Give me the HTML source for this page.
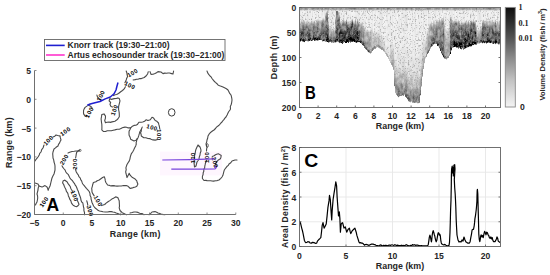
<!DOCTYPE html>
<html><head><meta charset="utf-8"><style>
html,body{margin:0;padding:0;background:#fff;width:550px;height:275px;overflow:hidden}
svg{display:block}
</style></head><body>
<svg width="550" height="275" viewBox="0 0 550 275">
<rect x="160" y="151.6" width="62" height="23.8" fill="#fef6fe"/>
<polyline points="87.3,105.9 85.1,107.4 84.2,108.9 83.6,110.3 83.5,112.2 83.6,113.9 85.1,116.1 87.0,116.6" fill="none" stroke="#4a4a4a" stroke-width="1.1" stroke-linejoin="round" stroke-linecap="round"/>
<text x="89.5" y="112.5" font-family="Liberation Sans, sans-serif" font-weight="bold" font-size="6.0" letter-spacing="0.45" fill="#000" text-anchor="middle" dominant-baseline="central" transform="rotate(-62 89.5 112.5)">100</text>
<polyline points="92.3,108.3 91.0,106.5 88.5,105.2" fill="none" stroke="#4a4a4a" stroke-width="1.1" stroke-linejoin="round" stroke-linecap="round"/>
<polyline points="96.9,95.1 97.5,97.0 99.5,98.9 100.7,99.5" fill="none" stroke="#4a4a4a" stroke-width="1.1" stroke-linejoin="round" stroke-linecap="round"/>
<text x="100.9" y="95.8" font-family="Liberation Sans, sans-serif" font-weight="bold" font-size="6.0" letter-spacing="0.45" fill="#000" text-anchor="middle" dominant-baseline="central" transform="rotate(-65 100.9 95.8)">100</text>
<polyline points="113.5,95.6 115.1,94.7 116.6,94.5 118.5,93.5 120.7,91.7 122.5,90.5 124.2,88.9 125.4,86.8" fill="none" stroke="#4a4a4a" stroke-width="1.1" stroke-linejoin="round" stroke-linecap="round"/>
<text x="129.9" y="85.4" font-family="Liberation Sans, sans-serif" font-weight="bold" font-size="6.0" letter-spacing="0.45" fill="#000" text-anchor="middle" dominant-baseline="central" transform="rotate(25 129.9 85.4)">100</text>
<polyline points="124.9,82.7 126.2,80.0 126.6,78.5 127.6,76.5 127.1,74.6 126.9,73.0 126.2,71.0" fill="none" stroke="#4a4a4a" stroke-width="1.1" stroke-linejoin="round" stroke-linecap="round"/>
<text x="132.6" y="73.0" font-family="Liberation Sans, sans-serif" font-weight="bold" font-size="6.0" letter-spacing="0.45" fill="#000" text-anchor="middle" dominant-baseline="central" transform="rotate(-30 132.6 73.0)">100</text>
<polyline points="133.1,80.0 135.2,79.6 136.6,79.3 138.4,79.1 139.9,78.6 141.4,78.6 144.2,77.5 146.3,75.8 147.7,73.7 148.3,71.7" fill="none" stroke="#4a4a4a" stroke-width="1.1" stroke-linejoin="round" stroke-linecap="round"/>
<polyline points="150.0,71.6 151.0,74.4 153.1,74.3 155.0,73.6 156.5,72.8 158.0,71.6 161.0,72.0 163.0,73.6 164.8,73.1 166.5,73.3 168.0,73.0 169.5,73.0 171.6,73.6 173.0,74.0 173.6,71.0" fill="none" stroke="#4a4a4a" stroke-width="1.1" stroke-linejoin="round" stroke-linecap="round"/>
<polyline points="110.6,102.3 109.1,100.8 109.8,98.6 111.3,99.4 114.2,98.6 116.2,98.5 117.8,97.9 119.3,98.6 120.0,100.8 119.3,103.7 118.6,106.6 118.6,109.6 119.1,112.0 119.3,113.9 119.3,116.8 117.8,119.0 116.3,120.3 114.9,121.2 112.0,121.9 110.3,122.4 109.0,122.0 106.9,122.3 105.5,122.7 104.7,120.5 105.4,118.3 105.5,116.1 104.0,113.9 101.8,114.6 101.5,116.7 101.1,119.0 101.3,120.6 101.5,122.5 101.8,124.1 101.9,126.3 101.9,128.3 101.8,129.9 103.3,131.4 105.5,131.5 107.3,130.7 109.1,130.7 111.3,130.8 113.2,130.2 114.9,129.9 117.2,129.3 119.3,129.2 121.0,128.6 122.2,127.8 125.0,127.1 126.5,127.2 128.3,127.9 130.7,127.9 132.4,126.2 134.0,125.4 135.9,125.3 137.3,124.6 138.9,122.2 141.3,122.2 142.7,122.0 144.6,121.3 146.2,119.7 147.9,120.5 150.3,119.7 152.0,117.3 153.6,118.1 155.2,120.5 156.9,121.3 158.5,123.0 158.8,124.4 159.3,126.2 159.8,129.0" fill="none" stroke="#4a4a4a" stroke-width="1.1" stroke-linejoin="round" stroke-linecap="round"/>
<text x="114.5" y="110.0" font-family="Liberation Sans, sans-serif" font-weight="bold" font-size="6.0" letter-spacing="0.45" fill="#000" text-anchor="middle" dominant-baseline="central" transform="rotate(-70 114.5 110.0)">100</text>
<polyline points="110.6,102.3 110.0,104.5 111.0,106.5 112.5,107.0" fill="none" stroke="#4a4a4a" stroke-width="1.1" stroke-linejoin="round" stroke-linecap="round"/>
<text x="152.0" y="127.6" font-family="Liberation Sans, sans-serif" font-weight="bold" font-size="6.0" letter-spacing="0.45" fill="#000" text-anchor="middle" dominant-baseline="central" transform="rotate(15 152.0 127.6)">100</text>
<text x="158.6" y="134.8" font-family="Liberation Sans, sans-serif" font-weight="bold" font-size="6.0" letter-spacing="0.45" fill="#000" text-anchor="middle" dominant-baseline="central" transform="rotate(90 158.6 134.8)">100</text>
<polyline points="157.7,139.5 155.2,140.1 153.0,139.9 151.1,139.3 149.8,138.6 147.9,138.5 145.9,137.8 143.8,137.7 141.3,136.0 141.1,134.3 140.5,132.8 141.2,131.5 141.3,129.5 142.2,127.1" fill="none" stroke="#4a4a4a" stroke-width="1.1" stroke-linejoin="round" stroke-linecap="round"/>
<polyline points="130.7,127.9 129.9,129.8 129.1,131.1 129.0,132.9 129.1,135.2 130.0,136.9 130.7,139.3 132.1,140.0 134.0,140.9 136.4,140.1 138.1,137.7 138.9,135.2 139.4,133.4 139.7,132.0 141.3,129.5" fill="none" stroke="#4a4a4a" stroke-width="1.1" stroke-linejoin="round" stroke-linecap="round"/>
<ellipse cx="171.7" cy="112.4" rx="3.3" ry="3.7" fill="none" stroke="#3c3c3c" stroke-width="1"/>
<polyline points="207.0,71.0 207.7,72.9 208.9,74.7 210.0,76.0 211.3,77.2 212.0,78.5 213.1,79.8 214.0,81.0 215.4,82.4 217.0,83.7 218.0,85.0 219.6,85.8 221.1,86.2 223.0,87.0 225.0,88.0 226.4,88.7 228.0,90.0 228.9,91.7 229.7,93.4 231.0,95.0 231.4,96.4 231.8,98.3 232.0,100.0 231.8,101.6 231.5,103.5 231.0,105.0 230.3,106.4 230.5,108.7 230.0,110.0 228.8,111.5 228.0,113.0 227.1,114.9 226.0,117.0 224.9,118.1 223.9,119.6 222.9,120.7 222.0,122.0 220.9,123.0 219.4,124.8 218.0,126.0 216.5,127.1 215.5,128.5 214.0,130.0 212.4,131.0 211.5,131.7 210.0,133.0 208.9,134.4 208.0,136.0 207.7,138.0 207.0,140.0 206.7,141.8 206.0,144.0 207.0,147.0 206.6,149.1 206.5,151.0" fill="none" stroke="#4a4a4a" stroke-width="1.1" stroke-linejoin="round" stroke-linecap="round"/>
<polyline points="206.5,160.0 206.3,161.5 205.5,162.8 205.2,164.4 204.8,166.2 204.6,168.1 203.8,169.3 203.8,171.2 203.2,172.7 203.1,174.5 202.4,176.4 202.4,178.5 204.0,180.5 205.8,180.4 207.1,180.6 208.7,180.7 210.7,180.7 212.0,181.0 213.4,181.1 215.8,180.8 217.2,180.6 219.0,180.0 220.8,178.3 222.0,177.0 222.8,175.6 223.3,173.8 223.7,172.1 224.2,170.3 225.0,169.0 226.1,167.6 227.2,166.2 228.3,165.4 229.0,164.0 230.8,162.8 232.0,161.0 235.0,160.0 237.0,160.0" fill="none" stroke="#4a4a4a" stroke-width="1.1" stroke-linejoin="round" stroke-linecap="round"/>
<text x="206.6" y="157.3" font-family="Liberation Sans, sans-serif" font-weight="bold" font-size="6.0" letter-spacing="0.45" fill="#000" text-anchor="middle" dominant-baseline="central" transform="rotate(-90 206.6 157.3)">100</text>
<ellipse cx="207.3" cy="145.5" rx="1" ry="1.8" fill="none" stroke="#3c3c3c" stroke-width="0.8"/>
<polyline points="198.0,145.0 200.0,147.0 200.8,149.1 201.0,151.0 200.2,153.2 200.0,155.0 199.3,156.9 199.0,159.0 198.1,160.5 197.0,162.0 196.4,164.3 196.0,166.0 194.5,167.0 194.3,164.9 194.0,163.0 194.0,161.3 194.3,159.2 194.5,157.0 194.7,154.8 195.2,153.2 195.5,151.0 196.0,149.2 197.0,147.0 198.0,145.0" fill="none" stroke="#4a4a4a" stroke-width="1.1" stroke-linejoin="round" stroke-linecap="round"/>
<text x="192.7" y="157.8" font-family="Liberation Sans, sans-serif" font-weight="bold" font-size="6.0" letter-spacing="0.45" fill="#000" text-anchor="middle" dominant-baseline="central" transform="rotate(-90 192.7 157.8)">100</text>
<polyline points="212.2,156.4 214.1,155.8 215.5,154.7 217.3,154.0 218.7,153.9 221.2,155.5 220.9,157.4 220.4,158.8 218.4,159.9 217.1,161.3 215.5,163.7 216.3,166.2 214.6,167.0" fill="none" stroke="#4a4a4a" stroke-width="1.1" stroke-linejoin="round" stroke-linecap="round"/>
<text x="214.8" y="162.5" font-family="Liberation Sans, sans-serif" font-weight="bold" font-size="6.0" letter-spacing="0.45" fill="#000" text-anchor="middle" dominant-baseline="central" transform="rotate(75 214.8 162.5)">200</text>
<polyline points="35.0,161.0 35.8,159.7 36.9,158.3 38.0,157.0 39.2,155.0 39.7,153.4 41.0,152.0 41.7,149.7 43.0,148.0 44.0,145.0" fill="none" stroke="#4a4a4a" stroke-width="1.1" stroke-linejoin="round" stroke-linecap="round"/>
<text x="48.5" y="140.5" font-family="Liberation Sans, sans-serif" font-weight="bold" font-size="6.0" letter-spacing="0.45" fill="#000" text-anchor="middle" dominant-baseline="central" transform="rotate(-45 48.5 140.5)">100</text>
<polyline points="53.0,137.0 54.8,136.2 56.0,135.0 57.7,135.5 60.0,136.0" fill="none" stroke="#4a4a4a" stroke-width="1.1" stroke-linejoin="round" stroke-linecap="round"/>
<text x="65.5" y="131.5" font-family="Liberation Sans, sans-serif" font-weight="bold" font-size="6.0" letter-spacing="0.45" fill="#000" text-anchor="middle" dominant-baseline="central" transform="rotate(-35 65.5 131.5)">100</text>
<polyline points="60.0,136.0 60.4,137.9 61.0,140.0 60.1,141.6 59.6,142.9 58.5,144.4 58.0,146.0 56.4,147.0 55.5,147.9 54.0,149.0 53.0,152.0 52.7,153.8 52.9,156.1 53.0,158.0 53.7,159.9 54.0,162.0 54.7,164.1 55.0,166.0 55.0,167.9 55.0,170.0 54.5,172.1 54.0,174.0 52.9,176.1 52.0,178.0 51.5,179.8 51.0,182.0 50.5,184.1 50.0,186.0 49.0,188.0 48.0,190.0" fill="none" stroke="#4a4a4a" stroke-width="1.1" stroke-linejoin="round" stroke-linecap="round"/>
<text x="44.0" y="202.0" font-family="Liberation Sans, sans-serif" font-weight="bold" font-size="6.0" letter-spacing="0.45" fill="#000" text-anchor="middle" dominant-baseline="central" transform="rotate(-55 44.0 202.0)">100</text>
<polyline points="35.0,183.0 38.0,184.0 39.0,186.0 38.2,187.9 38.0,190.0 37.4,192.3 37.0,194.0 37.5,195.6 37.7,197.5 37.6,199.0 37.0,202.0 36.1,203.5 35.5,205.0" fill="none" stroke="#4a4a4a" stroke-width="1.1" stroke-linejoin="round" stroke-linecap="round"/>
<polyline points="39.0,186.0 42.0,187.0 43.2,186.5 45.0,185.6 47.0,187.0 47.8,188.8 48.4,190.0" fill="none" stroke="#4a4a4a" stroke-width="1.1" stroke-linejoin="round" stroke-linecap="round"/>
<polyline points="79.2,150.5 77.8,150.9 76.0,151.0 74.2,151.3 72.0,151.5 69.7,152.3 68.0,153.0" fill="none" stroke="#4a4a4a" stroke-width="1.1" stroke-linejoin="round" stroke-linecap="round"/>
<text x="64.3" y="159.7" font-family="Liberation Sans, sans-serif" font-weight="bold" font-size="6.0" letter-spacing="0.45" fill="#000" text-anchor="middle" dominant-baseline="central" transform="rotate(-60 64.3 159.7)">200</text>
<polyline points="62.0,165.7 62.5,166.9 63.7,168.5 65.0,169.9 65.9,172.0 66.7,173.2 68.4,174.7 69.2,176.4 70.0,178.1 71.1,179.5 72.5,180.7 73.5,182.4 74.6,183.7 75.2,185.1 76.1,186.2 76.9,188.0 77.4,189.5 78.4,191.4 79.0,193.8 80.0,196.3 80.7,198.2 80.9,200.0 81.7,202.0 82.8,202.9 83.2,205.0 83.4,206.3 83.9,208.4 83.9,210.6 84.5,212.5 84.5,214.7" fill="none" stroke="#4a4a4a" stroke-width="1.1" stroke-linejoin="round" stroke-linecap="round"/>
<polyline points="79.2,150.5 76.8,152.0 76.3,153.9 76.0,156.0 75.6,158.0" fill="none" stroke="#4a4a4a" stroke-width="1.1" stroke-linejoin="round" stroke-linecap="round"/>
<text x="74.8" y="164.0" font-family="Liberation Sans, sans-serif" font-weight="bold" font-size="6.0" letter-spacing="0.45" fill="#000" text-anchor="middle" dominant-baseline="central" transform="rotate(-90 74.8 164.0)">200</text>
<polyline points="75.5,169.5 76.3,172.0 77.3,173.6 78.5,175.3 78.9,176.7 80.3,178.1 80.7,179.6 81.6,180.8 82.2,182.7 82.8,184.0 84.0,185.4 85.0,186.7 86.4,188.4 87.8,189.8 89.2,191.5 90.0,193.6 90.1,195.6 91.0,197.3 91.1,199.1 91.6,200.9 91.9,202.2 92.7,204.0 93.6,206.0 94.9,207.8 96.1,208.7 97.6,210.0 99.4,211.0 100.9,211.3 103.0,211.8 105.3,212.0 107.4,212.0 109.6,211.6 111.3,211.6 112.9,212.0 114.4,212.2 116.2,213.0 118.4,213.8 120.5,214.7" fill="none" stroke="#4a4a4a" stroke-width="1.1" stroke-linejoin="round" stroke-linecap="round"/>
<text x="98.0" y="201.0" font-family="Liberation Sans, sans-serif" font-weight="bold" font-size="6.0" letter-spacing="0.45" fill="#000" text-anchor="middle" dominant-baseline="central" transform="rotate(60 98.0 201.0)">100</text>
<polyline points="101.5,205.6 103.1,205.0 104.7,204.5 106.1,203.1 108.0,201.8 109.8,200.6 111.8,199.1 113.5,198.3 115.6,196.9 117.8,197.5 118.5,199.2 119.2,200.7 119.3,202.8 119.4,204.5 119.5,206.2 119.2,207.8 120.0,210.5 122.2,212.7 125.0,214.1 126.5,214.7" fill="none" stroke="#4a4a4a" stroke-width="1.1" stroke-linejoin="round" stroke-linecap="round"/>
<circle cx="80" cy="150.4" r="1.1" fill="none" stroke="#3c3c3c" stroke-width="0.7"/>
<polyline points="64.8,180.2 67.0,181.8 68.1,183.6 69.2,185.1 70.2,186.5 70.8,188.4 71.4,189.5 73.0,192.0" fill="none" stroke="#4a4a4a" stroke-width="1.1" stroke-linejoin="round" stroke-linecap="round"/>
<text x="74.5" y="196.0" font-family="Liberation Sans, sans-serif" font-weight="bold" font-size="6.0" letter-spacing="0.45" fill="#000" text-anchor="middle" dominant-baseline="central" transform="rotate(68 74.5 196.0)">100</text>
<polyline points="77.0,200.0 77.7,201.3 78.5,203.0 79.0,204.5 78.2,205.5 76.8,206.7 75.0,206.3 73.6,205.6 72.6,204.6 71.4,202.9 70.9,200.9 69.7,199.1 69.2,197.5 68.4,195.9 68.0,194.0 67.6,192.8 66.4,191.3 65.9,189.5 65.0,187.8 64.3,186.2 63.6,184.3 62.6,183.0 63.2,180.7 64.8,180.2" fill="none" stroke="#4a4a4a" stroke-width="1.1" stroke-linejoin="round" stroke-linecap="round"/>
<polyline points="86.7,200.7 87.4,203.0 87.8,205.1" fill="none" stroke="#4a4a4a" stroke-width="1.1" stroke-linejoin="round" stroke-linecap="round"/>
<text x="90.0" y="211.0" font-family="Liberation Sans, sans-serif" font-weight="bold" font-size="6.0" letter-spacing="0.45" fill="#000" text-anchor="middle" dominant-baseline="central" transform="rotate(75 90.0 211.0)">300</text>
<polyline points="94.2,195.9 92.6,193.4 92.0,192.0 91.9,190.0 91.7,188.4 92.2,186.8 92.6,185.0 93.4,182.5 95.9,181.7 97.2,180.7 99.2,180.0 100.9,178.7 102.6,177.5 104.3,176.7 105.1,179.2 105.3,180.9 105.9,182.5 107.6,185.0 109.6,185.4 111.0,185.9 113.1,185.6 115.1,185.9 117.1,186.1 119.4,186.0 121.3,186.0 123.7,185.5 126.2,185.6 128.1,186.3 130.3,188.5 132.3,187.9 133.6,187.4 135.4,187.0 136.8,186.3 137.9,184.1 137.2,182.6 136.8,180.9 134.7,178.7 132.5,177.6 130.3,175.4 129.2,173.2 128.1,175.4 127.0,177.6 126.6,175.6 125.9,173.2 125.7,171.6 126.2,169.7 125.9,167.8 126.5,165.9 127.0,164.5 128.1,162.7 129.2,161.2 129.9,159.1 130.3,156.8 130.9,155.0 131.4,153.6 132.6,152.0 133.6,150.3 134.1,149.1 135.1,147.1 135.7,145.9 136.3,144.0 136.1,142.8 136.6,141.1 136.8,139.4 137.4,138.4" fill="none" stroke="#4a4a4a" stroke-width="1.1" stroke-linejoin="round" stroke-linecap="round"/>
<polyline points="130.0,213.0 132.1,212.5 134.0,212.0 135.9,212.0 138.0,212.4 139.7,213.2 142.0,213.6 144.0,214.7" fill="none" stroke="#4a4a4a" stroke-width="1.1" stroke-linejoin="round" stroke-linecap="round"/>
<polyline points="149.0,214.7 150.7,213.4 152.0,212.0 155.0,211.6 156.7,212.2 158.0,213.0 159.8,213.6 162.0,214.4 165.0,214.7" fill="none" stroke="#4a4a4a" stroke-width="1.1" stroke-linejoin="round" stroke-linecap="round"/>
<polyline points="162.3,160 190,159.6 214.6,158.8" fill="none" stroke="#7843dc" stroke-width="1.2"/>
<polyline points="171.3,169.2 200,169.2 215,169 216.3,167.5 214.5,166.2" fill="none" stroke="#7843dc" stroke-width="1.2"/>
<polyline points="87.3,105.3 90.2,104 95,102.7 100,101.5 105.2,98.9 110.3,97 114,93.8 116,90 117,86 118,82.5" fill="none" stroke="#1f1fd0" stroke-width="1.5" stroke-linejoin="round"/>
<line x1="34.5" y1="70.5" x2="34.5" y2="214.5" stroke="#707070" stroke-width="1"/>
<line x1="34.5" y1="214.5" x2="235.8" y2="214.5" stroke="#707070" stroke-width="1"/>
<line x1="34.50" y1="214.5" x2="34.50" y2="212.5" stroke="#6e6e6e" stroke-width="0.8"/>
<text x="34.50" y="226.20" font-family="Liberation Sans, sans-serif" font-weight="bold" font-size="8.6" text-anchor="middle" fill="#262626" >&#8722;5</text>
<line x1="63.26" y1="214.5" x2="63.26" y2="212.5" stroke="#6e6e6e" stroke-width="0.8"/>
<text x="63.26" y="226.20" font-family="Liberation Sans, sans-serif" font-weight="bold" font-size="8.6" text-anchor="middle" fill="#262626" >0</text>
<line x1="92.01" y1="214.5" x2="92.01" y2="212.5" stroke="#6e6e6e" stroke-width="0.8"/>
<text x="92.01" y="226.20" font-family="Liberation Sans, sans-serif" font-weight="bold" font-size="8.6" text-anchor="middle" fill="#262626" >5</text>
<line x1="120.77" y1="214.5" x2="120.77" y2="212.5" stroke="#6e6e6e" stroke-width="0.8"/>
<text x="120.77" y="226.20" font-family="Liberation Sans, sans-serif" font-weight="bold" font-size="8.6" text-anchor="middle" fill="#262626" >10</text>
<line x1="149.53" y1="214.5" x2="149.53" y2="212.5" stroke="#6e6e6e" stroke-width="0.8"/>
<text x="149.53" y="226.20" font-family="Liberation Sans, sans-serif" font-weight="bold" font-size="8.6" text-anchor="middle" fill="#262626" >15</text>
<line x1="178.29" y1="214.5" x2="178.29" y2="212.5" stroke="#6e6e6e" stroke-width="0.8"/>
<text x="178.29" y="226.20" font-family="Liberation Sans, sans-serif" font-weight="bold" font-size="8.6" text-anchor="middle" fill="#262626" >20</text>
<line x1="207.04" y1="214.5" x2="207.04" y2="212.5" stroke="#6e6e6e" stroke-width="0.8"/>
<text x="207.04" y="226.20" font-family="Liberation Sans, sans-serif" font-weight="bold" font-size="8.6" text-anchor="middle" fill="#262626" >25</text>
<line x1="235.80" y1="214.5" x2="235.80" y2="212.5" stroke="#6e6e6e" stroke-width="0.8"/>
<text x="235.80" y="226.20" font-family="Liberation Sans, sans-serif" font-weight="bold" font-size="8.6" text-anchor="middle" fill="#262626" >30</text>
<line x1="34.5" y1="214.50" x2="36.5" y2="214.50" stroke="#6e6e6e" stroke-width="0.8"/>
<text x="31.00" y="218.00" font-family="Liberation Sans, sans-serif" font-weight="bold" font-size="8.6" text-anchor="end" fill="#262626" >&#8722;20</text>
<line x1="34.5" y1="185.70" x2="36.5" y2="185.70" stroke="#6e6e6e" stroke-width="0.8"/>
<text x="31.00" y="189.20" font-family="Liberation Sans, sans-serif" font-weight="bold" font-size="8.6" text-anchor="end" fill="#262626" >&#8722;15</text>
<line x1="34.5" y1="156.90" x2="36.5" y2="156.90" stroke="#6e6e6e" stroke-width="0.8"/>
<text x="31.00" y="160.40" font-family="Liberation Sans, sans-serif" font-weight="bold" font-size="8.6" text-anchor="end" fill="#262626" >&#8722;10</text>
<line x1="34.5" y1="128.10" x2="36.5" y2="128.10" stroke="#6e6e6e" stroke-width="0.8"/>
<text x="31.00" y="131.60" font-family="Liberation Sans, sans-serif" font-weight="bold" font-size="8.6" text-anchor="end" fill="#262626" >&#8722;5</text>
<line x1="34.5" y1="99.30" x2="36.5" y2="99.30" stroke="#6e6e6e" stroke-width="0.8"/>
<text x="31.00" y="102.80" font-family="Liberation Sans, sans-serif" font-weight="bold" font-size="8.6" text-anchor="end" fill="#262626" >0</text>
<line x1="34.5" y1="70.50" x2="36.5" y2="70.50" stroke="#6e6e6e" stroke-width="0.8"/>
<text x="31.00" y="74.00" font-family="Liberation Sans, sans-serif" font-weight="bold" font-size="8.6" text-anchor="end" fill="#262626" >5</text>
<text x="135.20" y="237.20" font-family="Liberation Sans, sans-serif" font-weight="bold" font-size="8.9" text-anchor="middle" fill="#262626" letter-spacing="0.25">Range (km)</text>
<text x="0.00" y="0.00" font-family="Liberation Sans, sans-serif" font-weight="bold" font-size="8.9" text-anchor="middle" fill="#262626" letter-spacing="0.25" transform="translate(12 142.5) rotate(-90)">Range (km)</text>
<text x="52.80" y="210.50" font-family="Liberation Sans, sans-serif" font-weight="bold" font-size="17.5" text-anchor="middle" fill="#000" >A</text>
<rect x="44.5" y="39.5" width="180.5" height="21" fill="#fff" stroke="#666" stroke-width="0.9"/>
<line x1="46" y1="45.4" x2="64.7" y2="45.4" stroke="#1f1fd0" stroke-width="1.6"/>
<line x1="46" y1="55" x2="64.7" y2="55" stroke="#ff33cc" stroke-width="1.6"/>
<text x="67.50" y="48.30" font-family="Liberation Sans, sans-serif" font-weight="bold" font-size="8.5" text-anchor="start" fill="#262626" >Knorr track (19:30&#8211;21:00)</text>
<text x="67.50" y="58.00" font-family="Liberation Sans, sans-serif" font-weight="bold" font-size="8.5" text-anchor="start" fill="#262626" >Artus echosounder track (19:30&#8211;21:00)</text>
<defs>
<filter id="nz" x="0" y="0" width="100%" height="100%"><feTurbulence type="fractalNoise" baseFrequency="1.1 0.3" numOctaves="1" seed="4" result="t"/><feColorMatrix in="t" type="matrix" values="0 0 0 0 0  0 0 0 0 0  0 0 0 0 0  0 0 0 -1.6 1.05" result="a"/><feComposite in="SourceGraphic" in2="a" operator="in"/></filter>
<clipPath id="fl"><polygon points="299.5,7.8 299.0,41.5 304.5,41.5 309.9,40.9 315.4,40.4 320.8,40.4 324.1,41.5 327.4,42.0 330.6,42.5 332.8,43.1 335.0,42.5 338.3,42.0 340.4,43.1 342.6,43.6 344.8,42.5 348.1,42.5 353.5,42.0 355.0,42.6 357.2,42.4 359.4,42.4 361.5,43.8 363.7,46.7 365.9,49.6 368.1,51.8 370.3,53.3 371.7,52.5 373.2,50.4 375.4,48.2 377.5,47.5 379.7,48.2 381.9,49.6 384.1,51.8 386.3,55.5 388.5,59.1 390.6,63.5 392.8,67.1 394.0,72.0 394.4,85.8 395.6,93.4 398.2,97.3 402.0,96.0 404.5,94.7 405.8,97.3 408.3,101.0 412.2,102.3 417.3,103.1 419.8,102.3 421.0,91.0 422.3,78.2 423.6,68.0 425.0,60.0 428.0,53.0 431.0,48.0 433.0,45.0 436.0,44.0 439.0,47.0 441.0,53.0 444.0,58.0 447.0,59.0 449.0,57.0 451.0,53.0 452.0,48.0 454.0,47.0 458.0,48.0 461.0,49.0 465.0,49.0 469.0,47.0 473.0,45.0 477.0,44.0 481.0,43.0 487.0,43.0 493.0,43.4 500.5,44.0 500.5,7.8"/></clipPath>
<linearGradient id="cb" x1="0" y1="0" x2="0" y2="1"><stop offset="0" stop-color="#0e0e0e"/><stop offset="0.15" stop-color="#2e2e2e"/><stop offset="0.31" stop-color="#545454"/><stop offset="0.5" stop-color="#888888"/><stop offset="0.73" stop-color="#c2c2c2"/><stop offset="1" stop-color="#f4f4f4"/></linearGradient>
<filter id="nz2" x="299" y="7" width="203" height="101" filterUnits="userSpaceOnUse" color-interpolation-filters="sRGB"><feTurbulence type="fractalNoise" baseFrequency="0.37 0.19" numOctaves="3" seed="11" result="t"/><feColorMatrix in="t" type="matrix" values="0 0 0 1 0  0 0 0 1 0  0 0 0 1 0  0 0 0 0 1" result="g"/><feComposite in="SourceGraphic" in2="g" operator="arithmetic" k1="-1.3" k2="1.65" k3="1.3" k4="-0.65" result="c"/><feTurbulence type="fractalNoise" baseFrequency="0.71 0.53" numOctaves="2" seed="29" result="t2"/><feComponentTransfer in="t2" result="m"><feFuncA type="discrete" tableValues="0 0 0 0 0 0 0.35 0.65 0.85 1"/></feComponentTransfer><feFlood flood-color="#9a9a9a" result="fl"/><feComposite in="fl" in2="m" operator="in" result="dots"/><feMerge result="c2"><feMergeNode in="c"/><feMergeNode in="dots"/></feMerge><feComposite in="c2" in2="SourceGraphic" operator="in"/></filter>
</defs>
<defs><linearGradient id="e0" x1="0" y1="0" x2="0" y2="1"><stop offset="0.000" stop-color="#8c8c8c"/><stop offset="0.048" stop-color="#aaaaaa"/><stop offset="0.090" stop-color="#eeeeee"/><stop offset="0.341" stop-color="#eeeeee"/><stop offset="0.460" stop-color="#9c9c9c"/><stop offset="0.723" stop-color="#6d6d6d"/><stop offset="0.916" stop-color="#5d5d5d"/><stop offset="0.928" stop-color="#292929"/><stop offset="1.000" stop-color="#292929"/></linearGradient><linearGradient id="e1" x1="0" y1="0" x2="0" y2="1"><stop offset="0.000" stop-color="#8c8c8c"/><stop offset="0.047" stop-color="#aaaaaa"/><stop offset="0.089" stop-color="#e8e8e8"/><stop offset="0.377" stop-color="#e8e8e8"/><stop offset="0.496" stop-color="#9a9a9a"/><stop offset="0.740" stop-color="#6a6a6a"/><stop offset="0.917" stop-color="#595959"/><stop offset="0.929" stop-color="#252525"/><stop offset="1.000" stop-color="#252525"/></linearGradient><linearGradient id="e2" x1="0" y1="0" x2="0" y2="1"><stop offset="0.000" stop-color="#8c8c8c"/><stop offset="0.048" stop-color="#aaaaaa"/><stop offset="0.091" stop-color="#e8e8e8"/><stop offset="0.346" stop-color="#e8e8e8"/><stop offset="0.467" stop-color="#999999"/><stop offset="0.726" stop-color="#696969"/><stop offset="0.916" stop-color="#585858"/><stop offset="0.928" stop-color="#232323"/><stop offset="1.000" stop-color="#232323"/></linearGradient><linearGradient id="e3" x1="0" y1="0" x2="0" y2="1"><stop offset="0.000" stop-color="#8c8c8c"/><stop offset="0.048" stop-color="#aaaaaa"/><stop offset="0.089" stop-color="#e8e8e8"/><stop offset="0.353" stop-color="#e8e8e8"/><stop offset="0.472" stop-color="#959595"/><stop offset="0.729" stop-color="#626262"/><stop offset="0.917" stop-color="#505050"/><stop offset="0.929" stop-color="#1b1b1b"/><stop offset="1.000" stop-color="#1b1b1b"/></linearGradient><linearGradient id="e4" x1="0" y1="0" x2="0" y2="1"><stop offset="0.000" stop-color="#8c8c8c"/><stop offset="0.047" stop-color="#aaaaaa"/><stop offset="0.089" stop-color="#ededed"/><stop offset="0.366" stop-color="#ededed"/><stop offset="0.484" stop-color="#949494"/><stop offset="0.735" stop-color="#616161"/><stop offset="0.917" stop-color="#4e4e4e"/><stop offset="0.929" stop-color="#191919"/><stop offset="1.000" stop-color="#191919"/></linearGradient><linearGradient id="e5" x1="0" y1="0" x2="0" y2="1"><stop offset="0.000" stop-color="#8c8c8c"/><stop offset="0.047" stop-color="#aaaaaa"/><stop offset="0.088" stop-color="#f0f0f0"/><stop offset="0.352" stop-color="#f0f0f0"/><stop offset="0.469" stop-color="#9e9e9e"/><stop offset="0.727" stop-color="#717171"/><stop offset="0.918" stop-color="#606060"/><stop offset="0.930" stop-color="#2d2d2d"/><stop offset="1.000" stop-color="#2d2d2d"/></linearGradient><linearGradient id="e6" x1="0" y1="0" x2="0" y2="1"><stop offset="0.000" stop-color="#8c8c8c"/><stop offset="0.048" stop-color="#aaaaaa"/><stop offset="0.090" stop-color="#eaeaea"/><stop offset="0.412" stop-color="#eaeaea"/><stop offset="0.532" stop-color="#9e9e9e"/><stop offset="0.759" stop-color="#707070"/><stop offset="0.916" stop-color="#5f5f5f"/><stop offset="0.928" stop-color="#2c2c2c"/><stop offset="1.000" stop-color="#2c2c2c"/></linearGradient><linearGradient id="e7" x1="0" y1="0" x2="0" y2="1"><stop offset="0.000" stop-color="#8c8c8c"/><stop offset="0.048" stop-color="#aaaaaa"/><stop offset="0.091" stop-color="#ededed"/><stop offset="0.372" stop-color="#ededed"/><stop offset="0.493" stop-color="#999999"/><stop offset="0.739" stop-color="#686868"/><stop offset="0.915" stop-color="#575757"/><stop offset="0.927" stop-color="#222222"/><stop offset="1.000" stop-color="#222222"/></linearGradient><linearGradient id="e8" x1="0" y1="0" x2="0" y2="1"><stop offset="0.000" stop-color="#8c8c8c"/><stop offset="0.048" stop-color="#aaaaaa"/><stop offset="0.090" stop-color="#e8e8e8"/><stop offset="0.354" stop-color="#e8e8e8"/><stop offset="0.473" stop-color="#9f9f9f"/><stop offset="0.729" stop-color="#717171"/><stop offset="0.916" stop-color="#616161"/><stop offset="0.928" stop-color="#2e2e2e"/><stop offset="1.000" stop-color="#2e2e2e"/></linearGradient><linearGradient id="e9" x1="0" y1="0" x2="0" y2="1"><stop offset="0.000" stop-color="#8c8c8c"/><stop offset="0.048" stop-color="#aaaaaa"/><stop offset="0.090" stop-color="#eaeaea"/><stop offset="0.387" stop-color="#eaeaea"/><stop offset="0.507" stop-color="#9b9b9b"/><stop offset="0.746" stop-color="#6b6b6b"/><stop offset="0.916" stop-color="#5a5a5a"/><stop offset="0.928" stop-color="#262626"/><stop offset="1.000" stop-color="#262626"/></linearGradient><linearGradient id="e10" x1="0" y1="0" x2="0" y2="1"><stop offset="0.000" stop-color="#8c8c8c"/><stop offset="0.048" stop-color="#aaaaaa"/><stop offset="0.091" stop-color="#efefef"/><stop offset="0.402" stop-color="#efefef"/><stop offset="0.523" stop-color="#9d9d9d"/><stop offset="0.754" stop-color="#6e6e6e"/><stop offset="0.915" stop-color="#5d5d5d"/><stop offset="0.927" stop-color="#292929"/><stop offset="1.000" stop-color="#292929"/></linearGradient><linearGradient id="e11" x1="0" y1="0" x2="0" y2="1"><stop offset="0.000" stop-color="#8c8c8c"/><stop offset="0.049" stop-color="#aaaaaa"/><stop offset="0.092" stop-color="#ececec"/><stop offset="0.422" stop-color="#ececec"/><stop offset="0.544" stop-color="#9a9a9a"/><stop offset="0.765" stop-color="#696969"/><stop offset="0.914" stop-color="#585858"/><stop offset="0.927" stop-color="#242424"/><stop offset="1.000" stop-color="#242424"/></linearGradient><linearGradient id="e12" x1="0" y1="0" x2="0" y2="1"><stop offset="0.000" stop-color="#8c8c8c"/><stop offset="0.048" stop-color="#aaaaaa"/><stop offset="0.090" stop-color="#f1f1f1"/><stop offset="0.348" stop-color="#f1f1f1"/><stop offset="0.468" stop-color="#9d9d9d"/><stop offset="0.727" stop-color="#6f6f6f"/><stop offset="0.916" stop-color="#5e5e5e"/><stop offset="0.928" stop-color="#2b2b2b"/><stop offset="1.000" stop-color="#2b2b2b"/></linearGradient><linearGradient id="e13" x1="0" y1="0" x2="0" y2="1"><stop offset="0.000" stop-color="#8c8c8c"/><stop offset="0.049" stop-color="#aaaaaa"/><stop offset="0.092" stop-color="#e9e9e9"/><stop offset="0.383" stop-color="#e9e9e9"/><stop offset="0.505" stop-color="#999999"/><stop offset="0.745" stop-color="#686868"/><stop offset="0.915" stop-color="#565656"/><stop offset="0.927" stop-color="#222222"/><stop offset="1.000" stop-color="#222222"/></linearGradient><linearGradient id="e14" x1="0" y1="0" x2="0" y2="1"><stop offset="0.000" stop-color="#8c8c8c"/><stop offset="0.050" stop-color="#aaaaaa"/><stop offset="0.093" stop-color="#efefef"/><stop offset="0.389" stop-color="#efefef"/><stop offset="0.513" stop-color="#9b9b9b"/><stop offset="0.749" stop-color="#6c6c6c"/><stop offset="0.913" stop-color="#5b5b5b"/><stop offset="0.926" stop-color="#272727"/><stop offset="1.000" stop-color="#272727"/></linearGradient><linearGradient id="e15" x1="0" y1="0" x2="0" y2="1"><stop offset="0.000" stop-color="#8c8c8c"/><stop offset="0.048" stop-color="#aaaaaa"/><stop offset="0.091" stop-color="#eeeeee"/><stop offset="0.373" stop-color="#eeeeee"/><stop offset="0.494" stop-color="#a0a0a0"/><stop offset="0.739" stop-color="#747474"/><stop offset="0.915" stop-color="#646464"/><stop offset="0.928" stop-color="#313131"/><stop offset="1.000" stop-color="#313131"/></linearGradient><linearGradient id="e16" x1="0" y1="0" x2="0" y2="1"><stop offset="0.000" stop-color="#8c8c8c"/><stop offset="0.049" stop-color="#aaaaaa"/><stop offset="0.092" stop-color="#efefef"/><stop offset="0.402" stop-color="#efefef"/><stop offset="0.525" stop-color="#a0a0a0"/><stop offset="0.755" stop-color="#737373"/><stop offset="0.914" stop-color="#636363"/><stop offset="0.927" stop-color="#303030"/><stop offset="1.000" stop-color="#303030"/></linearGradient><linearGradient id="e17" x1="0" y1="0" x2="0" y2="1"><stop offset="0.000" stop-color="#8c8c8c"/><stop offset="0.049" stop-color="#aaaaaa"/><stop offset="0.092" stop-color="#e8e8e8"/><stop offset="0.374" stop-color="#e8e8e8"/><stop offset="0.497" stop-color="#9f9f9f"/><stop offset="0.741" stop-color="#727272"/><stop offset="0.914" stop-color="#626262"/><stop offset="0.926" stop-color="#2f2f2f"/><stop offset="1.000" stop-color="#2f2f2f"/></linearGradient><linearGradient id="e18" x1="0" y1="0" x2="0" y2="1"><stop offset="0.000" stop-color="#8c8c8c"/><stop offset="0.049" stop-color="#aaaaaa"/><stop offset="0.092" stop-color="#efefef"/><stop offset="0.326" stop-color="#efefef"/><stop offset="0.448" stop-color="#9d9d9d"/><stop offset="0.716" stop-color="#6f6f6f"/><stop offset="0.915" stop-color="#5e5e5e"/><stop offset="0.927" stop-color="#2b2b2b"/><stop offset="1.000" stop-color="#2b2b2b"/></linearGradient><linearGradient id="e19" x1="0" y1="0" x2="0" y2="1"><stop offset="0.000" stop-color="#8c8c8c"/><stop offset="0.049" stop-color="#aaaaaa"/><stop offset="0.092" stop-color="#e7e7e7"/><stop offset="0.338" stop-color="#e7e7e7"/><stop offset="0.461" stop-color="#a1a1a1"/><stop offset="0.723" stop-color="#757575"/><stop offset="0.914" stop-color="#656565"/><stop offset="0.926" stop-color="#323232"/><stop offset="1.000" stop-color="#323232"/></linearGradient><linearGradient id="e20" x1="0" y1="0" x2="0" y2="1"><stop offset="0.000" stop-color="#8c8c8c"/><stop offset="0.050" stop-color="#aaaaaa"/><stop offset="0.093" stop-color="#e8e8e8"/><stop offset="0.361" stop-color="#e8e8e8"/><stop offset="0.485" stop-color="#a7a7a7"/><stop offset="0.735" stop-color="#7d7d7d"/><stop offset="0.913" stop-color="#6e6e6e"/><stop offset="0.925" stop-color="#3c3c3c"/><stop offset="1.000" stop-color="#3c3c3c"/></linearGradient><linearGradient id="e21" x1="0" y1="0" x2="0" y2="1"><stop offset="0.000" stop-color="#8c8c8c"/><stop offset="0.050" stop-color="#aaaaaa"/><stop offset="0.093" stop-color="#ebebeb"/><stop offset="0.364" stop-color="#ebebeb"/><stop offset="0.489" stop-color="#a5a5a5"/><stop offset="0.737" stop-color="#7a7a7a"/><stop offset="0.913" stop-color="#6b6b6b"/><stop offset="0.925" stop-color="#393939"/><stop offset="1.000" stop-color="#393939"/></linearGradient><linearGradient id="e22" x1="0" y1="0" x2="0" y2="1"><stop offset="0.000" stop-color="#8c8c8c"/><stop offset="0.049" stop-color="#aaaaaa"/><stop offset="0.093" stop-color="#ececec"/><stop offset="0.357" stop-color="#ececec"/><stop offset="0.481" stop-color="#a2a2a2"/><stop offset="0.733" stop-color="#767676"/><stop offset="0.913" stop-color="#666666"/><stop offset="0.926" stop-color="#343434"/><stop offset="1.000" stop-color="#343434"/></linearGradient><linearGradient id="e23" x1="0" y1="0" x2="0" y2="1"><stop offset="0.000" stop-color="#8c8c8c"/><stop offset="0.048" stop-color="#aaaaaa"/><stop offset="0.089" stop-color="#eaeaea"/><stop offset="0.296" stop-color="#eaeaea"/><stop offset="0.416" stop-color="#9d9d9d"/><stop offset="0.700" stop-color="#6f6f6f"/><stop offset="0.917" stop-color="#5e5e5e"/><stop offset="0.928" stop-color="#2b2b2b"/><stop offset="1.000" stop-color="#2b2b2b"/></linearGradient><linearGradient id="e24" x1="0" y1="0" x2="0" y2="1"><stop offset="0.000" stop-color="#8c8c8c"/><stop offset="0.048" stop-color="#aaaaaa"/><stop offset="0.090" stop-color="#f1f1f1"/><stop offset="0.269" stop-color="#f1f1f1"/><stop offset="0.389" stop-color="#9d9d9d"/><stop offset="0.687" stop-color="#6e6e6e"/><stop offset="0.916" stop-color="#5d5d5d"/><stop offset="0.928" stop-color="#292929"/><stop offset="1.000" stop-color="#292929"/></linearGradient><linearGradient id="e25" x1="0" y1="0" x2="0" y2="1"><stop offset="0.000" stop-color="#8c8c8c"/><stop offset="0.048" stop-color="#aaaaaa"/><stop offset="0.090" stop-color="#e9e9e9"/><stop offset="0.292" stop-color="#e9e9e9"/><stop offset="0.412" stop-color="#a0a0a0"/><stop offset="0.699" stop-color="#737373"/><stop offset="0.916" stop-color="#626262"/><stop offset="0.928" stop-color="#2f2f2f"/><stop offset="1.000" stop-color="#2f2f2f"/></linearGradient><linearGradient id="e26" x1="0" y1="0" x2="0" y2="1"><stop offset="0.000" stop-color="#8c8c8c"/><stop offset="0.047" stop-color="#aaaaaa"/><stop offset="0.088" stop-color="#e7e7e7"/><stop offset="0.146" stop-color="#e7e7e7"/><stop offset="0.263" stop-color="#989898"/><stop offset="0.624" stop-color="#676767"/><stop offset="0.918" stop-color="#565656"/><stop offset="0.929" stop-color="#212121"/><stop offset="1.000" stop-color="#212121"/></linearGradient><linearGradient id="e27" x1="0" y1="0" x2="0" y2="1"><stop offset="0.000" stop-color="#8c8c8c"/><stop offset="0.047" stop-color="#aaaaaa"/><stop offset="0.088" stop-color="#f1f1f1"/><stop offset="0.094" stop-color="#f1f1f1"/><stop offset="0.155" stop-color="#949494"/><stop offset="0.570" stop-color="#626262"/><stop offset="0.917" stop-color="#4f4f4f"/><stop offset="0.929" stop-color="#1a1a1a"/><stop offset="1.000" stop-color="#1a1a1a"/></linearGradient><linearGradient id="e28" x1="0" y1="0" x2="0" y2="1"><stop offset="0.000" stop-color="#8c8c8c"/><stop offset="0.047" stop-color="#aaaaaa"/><stop offset="0.088" stop-color="#eeeeee"/><stop offset="0.093" stop-color="#eeeeee"/><stop offset="0.098" stop-color="#949494"/><stop offset="0.542" stop-color="#616161"/><stop offset="0.918" stop-color="#4e4e4e"/><stop offset="0.930" stop-color="#191919"/><stop offset="1.000" stop-color="#191919"/></linearGradient><linearGradient id="e29" x1="0" y1="0" x2="0" y2="1"><stop offset="0.000" stop-color="#8c8c8c"/><stop offset="0.046" stop-color="#aaaaaa"/><stop offset="0.086" stop-color="#f0f0f0"/><stop offset="0.304" stop-color="#f0f0f0"/><stop offset="0.419" stop-color="#a2a2a2"/><stop offset="0.702" stop-color="#767676"/><stop offset="0.920" stop-color="#666666"/><stop offset="0.931" stop-color="#333333"/><stop offset="1.000" stop-color="#333333"/></linearGradient><linearGradient id="e30" x1="0" y1="0" x2="0" y2="1"><stop offset="0.000" stop-color="#8c8c8c"/><stop offset="0.047" stop-color="#aaaaaa"/><stop offset="0.087" stop-color="#e8e8e8"/><stop offset="0.555" stop-color="#e8e8e8"/><stop offset="0.672" stop-color="#b5b5b5"/><stop offset="0.829" stop-color="#929292"/><stop offset="0.919" stop-color="#868686"/><stop offset="0.930" stop-color="#575757"/><stop offset="1.000" stop-color="#575757"/></linearGradient><linearGradient id="e31" x1="0" y1="0" x2="0" y2="1"><stop offset="0.000" stop-color="#8c8c8c"/><stop offset="0.047" stop-color="#aaaaaa"/><stop offset="0.088" stop-color="#e9e9e9"/><stop offset="0.518" stop-color="#e9e9e9"/><stop offset="0.635" stop-color="#b8b8b8"/><stop offset="0.810" stop-color="#969696"/><stop offset="0.918" stop-color="#8b8b8b"/><stop offset="0.930" stop-color="#5c5c5c"/><stop offset="1.000" stop-color="#5c5c5c"/></linearGradient><linearGradient id="e32" x1="0" y1="0" x2="0" y2="1"><stop offset="0.000" stop-color="#8c8c8c"/><stop offset="0.046" stop-color="#aaaaaa"/><stop offset="0.086" stop-color="#e7e7e7"/><stop offset="0.508" stop-color="#e7e7e7"/><stop offset="0.623" stop-color="#b8b8b8"/><stop offset="0.804" stop-color="#979797"/><stop offset="0.919" stop-color="#8b8b8b"/><stop offset="0.931" stop-color="#5c5c5c"/><stop offset="1.000" stop-color="#5c5c5c"/></linearGradient><linearGradient id="e33" x1="0" y1="0" x2="0" y2="1"><stop offset="0.000" stop-color="#8c8c8c"/><stop offset="0.046" stop-color="#aaaaaa"/><stop offset="0.086" stop-color="#e7e7e7"/><stop offset="0.571" stop-color="#e7e7e7"/><stop offset="0.686" stop-color="#b5b5b5"/><stop offset="0.836" stop-color="#939393"/><stop offset="0.919" stop-color="#868686"/><stop offset="0.931" stop-color="#575757"/><stop offset="1.000" stop-color="#575757"/></linearGradient><linearGradient id="e34" x1="0" y1="0" x2="0" y2="1"><stop offset="0.000" stop-color="#8c8c8c"/><stop offset="0.045" stop-color="#aaaaaa"/><stop offset="0.085" stop-color="#eaeaea"/><stop offset="0.518" stop-color="#eaeaea"/><stop offset="0.631" stop-color="#b7b7b7"/><stop offset="0.808" stop-color="#959595"/><stop offset="0.921" stop-color="#898989"/><stop offset="0.932" stop-color="#5a5a5a"/><stop offset="1.000" stop-color="#5a5a5a"/></linearGradient><linearGradient id="e35" x1="0" y1="0" x2="0" y2="1"><stop offset="0.000" stop-color="#8c8c8c"/><stop offset="0.046" stop-color="#aaaaaa"/><stop offset="0.087" stop-color="#efefef"/><stop offset="0.582" stop-color="#efefef"/><stop offset="0.697" stop-color="#b7b7b7"/><stop offset="0.841" stop-color="#969696"/><stop offset="0.919" stop-color="#8a8a8a"/><stop offset="0.931" stop-color="#5b5b5b"/><stop offset="1.000" stop-color="#5b5b5b"/></linearGradient><linearGradient id="e36" x1="0" y1="0" x2="0" y2="1"><stop offset="0.000" stop-color="#8c8c8c"/><stop offset="0.046" stop-color="#aaaaaa"/><stop offset="0.087" stop-color="#e8e8e8"/><stop offset="0.246" stop-color="#e8e8e8"/><stop offset="0.362" stop-color="#a5a5a5"/><stop offset="0.674" stop-color="#7a7a7a"/><stop offset="0.919" stop-color="#6b6b6b"/><stop offset="0.931" stop-color="#393939"/><stop offset="1.000" stop-color="#393939"/></linearGradient><linearGradient id="e37" x1="0" y1="0" x2="0" y2="1"><stop offset="0.000" stop-color="#8c8c8c"/><stop offset="0.047" stop-color="#aaaaaa"/><stop offset="0.088" stop-color="#efefef"/><stop offset="0.093" stop-color="#efefef"/><stop offset="0.107" stop-color="#979797"/><stop offset="0.546" stop-color="#666666"/><stop offset="0.918" stop-color="#545454"/><stop offset="0.930" stop-color="#202020"/><stop offset="1.000" stop-color="#202020"/></linearGradient><linearGradient id="e38" x1="0" y1="0" x2="0" y2="1"><stop offset="0.000" stop-color="#8c8c8c"/><stop offset="0.047" stop-color="#aaaaaa"/><stop offset="0.089" stop-color="#ececec"/><stop offset="0.095" stop-color="#ececec"/><stop offset="0.108" stop-color="#8e8e8e"/><stop offset="0.547" stop-color="#575757"/><stop offset="0.917" stop-color="#444444"/><stop offset="0.929" stop-color="#191919"/><stop offset="1.000" stop-color="#191919"/></linearGradient><linearGradient id="e39" x1="0" y1="0" x2="0" y2="1"><stop offset="0.000" stop-color="#8c8c8c"/><stop offset="0.047" stop-color="#aaaaaa"/><stop offset="0.087" stop-color="#ececec"/><stop offset="0.093" stop-color="#ececec"/><stop offset="0.179" stop-color="#989898"/><stop offset="0.582" stop-color="#666666"/><stop offset="0.919" stop-color="#555555"/><stop offset="0.930" stop-color="#202020"/><stop offset="1.000" stop-color="#202020"/></linearGradient><linearGradient id="e40" x1="0" y1="0" x2="0" y2="1"><stop offset="0.000" stop-color="#8c8c8c"/><stop offset="0.045" stop-color="#aaaaaa"/><stop offset="0.085" stop-color="#eaeaea"/><stop offset="0.164" stop-color="#eaeaea"/><stop offset="0.278" stop-color="#8b8b8b"/><stop offset="0.632" stop-color="#535353"/><stop offset="0.921" stop-color="#404040"/><stop offset="0.932" stop-color="#191919"/><stop offset="1.000" stop-color="#191919"/></linearGradient><linearGradient id="e41" x1="0" y1="0" x2="0" y2="1"><stop offset="0.000" stop-color="#8c8c8c"/><stop offset="0.046" stop-color="#aaaaaa"/><stop offset="0.086" stop-color="#ececec"/><stop offset="0.359" stop-color="#ececec"/><stop offset="0.474" stop-color="#868686"/><stop offset="0.730" stop-color="#4b4b4b"/><stop offset="0.920" stop-color="#373737"/><stop offset="0.931" stop-color="#191919"/><stop offset="1.000" stop-color="#191919"/></linearGradient><linearGradient id="e42" x1="0" y1="0" x2="0" y2="1"><stop offset="0.000" stop-color="#8c8c8c"/><stop offset="0.045" stop-color="#aaaaaa"/><stop offset="0.085" stop-color="#efefef"/><stop offset="0.372" stop-color="#efefef"/><stop offset="0.485" stop-color="#8c8c8c"/><stop offset="0.736" stop-color="#555555"/><stop offset="0.921" stop-color="#414141"/><stop offset="0.932" stop-color="#191919"/><stop offset="1.000" stop-color="#191919"/></linearGradient><linearGradient id="e43" x1="0" y1="0" x2="0" y2="1"><stop offset="0.000" stop-color="#8c8c8c"/><stop offset="0.044" stop-color="#aaaaaa"/><stop offset="0.083" stop-color="#efefef"/><stop offset="0.343" stop-color="#efefef"/><stop offset="0.454" stop-color="#828282"/><stop offset="0.720" stop-color="#464646"/><stop offset="0.923" stop-color="#313131"/><stop offset="0.934" stop-color="#191919"/><stop offset="1.000" stop-color="#191919"/></linearGradient><linearGradient id="e44" x1="0" y1="0" x2="0" y2="1"><stop offset="0.000" stop-color="#8c8c8c"/><stop offset="0.046" stop-color="#aaaaaa"/><stop offset="0.086" stop-color="#ebebeb"/><stop offset="0.294" stop-color="#ebebeb"/><stop offset="0.408" stop-color="#858585"/><stop offset="0.697" stop-color="#4a4a4a"/><stop offset="0.920" stop-color="#353535"/><stop offset="0.931" stop-color="#191919"/><stop offset="1.000" stop-color="#191919"/></linearGradient><linearGradient id="e45" x1="0" y1="0" x2="0" y2="1"><stop offset="0.000" stop-color="#8c8c8c"/><stop offset="0.047" stop-color="#aaaaaa"/><stop offset="0.088" stop-color="#eaeaea"/><stop offset="0.358" stop-color="#eaeaea"/><stop offset="0.475" stop-color="#878787"/><stop offset="0.730" stop-color="#4d4d4d"/><stop offset="0.918" stop-color="#393939"/><stop offset="0.930" stop-color="#191919"/><stop offset="1.000" stop-color="#191919"/></linearGradient><linearGradient id="e46" x1="0" y1="0" x2="0" y2="1"><stop offset="0.000" stop-color="#8c8c8c"/><stop offset="0.045" stop-color="#aaaaaa"/><stop offset="0.085" stop-color="#f0f0f0"/><stop offset="0.373" stop-color="#f0f0f0"/><stop offset="0.487" stop-color="#838383"/><stop offset="0.736" stop-color="#484848"/><stop offset="0.921" stop-color="#323232"/><stop offset="0.932" stop-color="#191919"/><stop offset="1.000" stop-color="#191919"/></linearGradient><linearGradient id="e47" x1="0" y1="0" x2="0" y2="1"><stop offset="0.000" stop-color="#8c8c8c"/><stop offset="0.045" stop-color="#aaaaaa"/><stop offset="0.085" stop-color="#e9e9e9"/><stop offset="0.309" stop-color="#e9e9e9"/><stop offset="0.422" stop-color="#838383"/><stop offset="0.704" stop-color="#474747"/><stop offset="0.921" stop-color="#323232"/><stop offset="0.932" stop-color="#191919"/><stop offset="1.000" stop-color="#191919"/></linearGradient><linearGradient id="e48" x1="0" y1="0" x2="0" y2="1"><stop offset="0.000" stop-color="#8c8c8c"/><stop offset="0.047" stop-color="#aaaaaa"/><stop offset="0.087" stop-color="#ededed"/><stop offset="0.376" stop-color="#ededed"/><stop offset="0.492" stop-color="#848484"/><stop offset="0.739" stop-color="#494949"/><stop offset="0.918" stop-color="#343434"/><stop offset="0.930" stop-color="#191919"/><stop offset="1.000" stop-color="#191919"/></linearGradient><linearGradient id="e49" x1="0" y1="0" x2="0" y2="1"><stop offset="0.000" stop-color="#8c8c8c"/><stop offset="0.046" stop-color="#aaaaaa"/><stop offset="0.086" stop-color="#eeeeee"/><stop offset="0.359" stop-color="#eeeeee"/><stop offset="0.473" stop-color="#7e7e7e"/><stop offset="0.730" stop-color="#414141"/><stop offset="0.920" stop-color="#2b2b2b"/><stop offset="0.932" stop-color="#191919"/><stop offset="1.000" stop-color="#191919"/></linearGradient><linearGradient id="e50" x1="0" y1="0" x2="0" y2="1"><stop offset="0.000" stop-color="#8c8c8c"/><stop offset="0.047" stop-color="#aaaaaa"/><stop offset="0.088" stop-color="#f0f0f0"/><stop offset="0.368" stop-color="#f0f0f0"/><stop offset="0.486" stop-color="#7a7a7a"/><stop offset="0.735" stop-color="#3a3a3a"/><stop offset="0.918" stop-color="#242424"/><stop offset="0.930" stop-color="#191919"/><stop offset="1.000" stop-color="#191919"/></linearGradient><linearGradient id="e51" x1="0" y1="0" x2="0" y2="1"><stop offset="0.000" stop-color="#8c8c8c"/><stop offset="0.046" stop-color="#aaaaaa"/><stop offset="0.086" stop-color="#e9e9e9"/><stop offset="0.361" stop-color="#e9e9e9"/><stop offset="0.476" stop-color="#7d7d7d"/><stop offset="0.731" stop-color="#3e3e3e"/><stop offset="0.919" stop-color="#282828"/><stop offset="0.931" stop-color="#191919"/><stop offset="1.000" stop-color="#191919"/></linearGradient><linearGradient id="e52" x1="0" y1="0" x2="0" y2="1"><stop offset="0.000" stop-color="#8c8c8c"/><stop offset="0.047" stop-color="#aaaaaa"/><stop offset="0.088" stop-color="#f1f1f1"/><stop offset="0.333" stop-color="#f1f1f1"/><stop offset="0.450" stop-color="#797979"/><stop offset="0.718" stop-color="#383838"/><stop offset="0.918" stop-color="#212121"/><stop offset="0.930" stop-color="#191919"/><stop offset="1.000" stop-color="#191919"/></linearGradient><linearGradient id="e53" x1="0" y1="0" x2="0" y2="1"><stop offset="0.000" stop-color="#8c8c8c"/><stop offset="0.047" stop-color="#aaaaaa"/><stop offset="0.088" stop-color="#eeeeee"/><stop offset="0.313" stop-color="#eeeeee"/><stop offset="0.430" stop-color="#787878"/><stop offset="0.708" stop-color="#363636"/><stop offset="0.918" stop-color="#1f1f1f"/><stop offset="0.930" stop-color="#191919"/><stop offset="1.000" stop-color="#191919"/></linearGradient><linearGradient id="e54" x1="0" y1="0" x2="0" y2="1"><stop offset="0.000" stop-color="#8c8c8c"/><stop offset="0.047" stop-color="#aaaaaa"/><stop offset="0.089" stop-color="#f0f0f0"/><stop offset="0.374" stop-color="#f0f0f0"/><stop offset="0.492" stop-color="#848484"/><stop offset="0.739" stop-color="#494949"/><stop offset="0.917" stop-color="#343434"/><stop offset="0.929" stop-color="#191919"/><stop offset="1.000" stop-color="#191919"/></linearGradient><linearGradient id="e55" x1="0" y1="0" x2="0" y2="1"><stop offset="0.000" stop-color="#8c8c8c"/><stop offset="0.047" stop-color="#aaaaaa"/><stop offset="0.088" stop-color="#f1f1f1"/><stop offset="0.356" stop-color="#f1f1f1"/><stop offset="0.473" stop-color="#7b7b7b"/><stop offset="0.729" stop-color="#3c3c3c"/><stop offset="0.918" stop-color="#252525"/><stop offset="0.930" stop-color="#191919"/><stop offset="1.000" stop-color="#191919"/></linearGradient><linearGradient id="e56" x1="0" y1="0" x2="0" y2="1"><stop offset="0.000" stop-color="#8c8c8c"/><stop offset="0.046" stop-color="#aaaaaa"/><stop offset="0.087" stop-color="#e8e8e8"/><stop offset="0.296" stop-color="#e8e8e8"/><stop offset="0.412" stop-color="#808080"/><stop offset="0.699" stop-color="#434343"/><stop offset="0.919" stop-color="#2d2d2d"/><stop offset="0.931" stop-color="#191919"/><stop offset="1.000" stop-color="#191919"/></linearGradient><linearGradient id="e57" x1="0" y1="0" x2="0" y2="1"><stop offset="0.000" stop-color="#8c8c8c"/><stop offset="0.045" stop-color="#aaaaaa"/><stop offset="0.085" stop-color="#ececec"/><stop offset="0.369" stop-color="#ececec"/><stop offset="0.483" stop-color="#808080"/><stop offset="0.734" stop-color="#424242"/><stop offset="0.921" stop-color="#2c2c2c"/><stop offset="0.932" stop-color="#191919"/><stop offset="1.000" stop-color="#191919"/></linearGradient><linearGradient id="e58" x1="0" y1="0" x2="0" y2="1"><stop offset="0.000" stop-color="#8c8c8c"/><stop offset="0.046" stop-color="#aaaaaa"/><stop offset="0.087" stop-color="#efefef"/><stop offset="0.314" stop-color="#efefef"/><stop offset="0.430" stop-color="#7d7d7d"/><stop offset="0.708" stop-color="#3f3f3f"/><stop offset="0.919" stop-color="#292929"/><stop offset="0.930" stop-color="#191919"/><stop offset="1.000" stop-color="#191919"/></linearGradient><linearGradient id="e59" x1="0" y1="0" x2="0" y2="1"><stop offset="0.000" stop-color="#8c8c8c"/><stop offset="0.047" stop-color="#aaaaaa"/><stop offset="0.087" stop-color="#e9e9e9"/><stop offset="0.360" stop-color="#e9e9e9"/><stop offset="0.476" stop-color="#8c8c8c"/><stop offset="0.731" stop-color="#545454"/><stop offset="0.918" stop-color="#414141"/><stop offset="0.930" stop-color="#191919"/><stop offset="1.000" stop-color="#191919"/></linearGradient><linearGradient id="e60" x1="0" y1="0" x2="0" y2="1"><stop offset="0.000" stop-color="#8c8c8c"/><stop offset="0.047" stop-color="#aaaaaa"/><stop offset="0.087" stop-color="#e8e8e8"/><stop offset="0.409" stop-color="#e8e8e8"/><stop offset="0.525" stop-color="#959595"/><stop offset="0.755" stop-color="#636363"/><stop offset="0.919" stop-color="#515151"/><stop offset="0.930" stop-color="#1c1c1c"/><stop offset="1.000" stop-color="#1c1c1c"/></linearGradient><linearGradient id="e61" x1="0" y1="0" x2="0" y2="1"><stop offset="0.000" stop-color="#8c8c8c"/><stop offset="0.046" stop-color="#aaaaaa"/><stop offset="0.085" stop-color="#ededed"/><stop offset="0.421" stop-color="#ededed"/><stop offset="0.534" stop-color="#a1a1a1"/><stop offset="0.760" stop-color="#747474"/><stop offset="0.920" stop-color="#646464"/><stop offset="0.932" stop-color="#313131"/><stop offset="1.000" stop-color="#313131"/></linearGradient><linearGradient id="e62" x1="0" y1="0" x2="0" y2="1"><stop offset="0.000" stop-color="#8c8c8c"/><stop offset="0.045" stop-color="#aaaaaa"/><stop offset="0.084" stop-color="#ececec"/><stop offset="0.402" stop-color="#ececec"/><stop offset="0.513" stop-color="#a5a5a5"/><stop offset="0.750" stop-color="#7a7a7a"/><stop offset="0.922" stop-color="#6b6b6b"/><stop offset="0.933" stop-color="#383838"/><stop offset="1.000" stop-color="#383838"/></linearGradient><linearGradient id="e63" x1="0" y1="0" x2="0" y2="1"><stop offset="0.000" stop-color="#8c8c8c"/><stop offset="0.043" stop-color="#aaaaaa"/><stop offset="0.080" stop-color="#ebebeb"/><stop offset="0.388" stop-color="#ebebeb"/><stop offset="0.495" stop-color="#b2b2b2"/><stop offset="0.741" stop-color="#8e8e8e"/><stop offset="0.925" stop-color="#828282"/><stop offset="0.936" stop-color="#525252"/><stop offset="1.000" stop-color="#525252"/></linearGradient><linearGradient id="e64" x1="0" y1="0" x2="0" y2="1"><stop offset="0.000" stop-color="#8c8c8c"/><stop offset="0.042" stop-color="#aaaaaa"/><stop offset="0.079" stop-color="#e9e9e9"/><stop offset="0.443" stop-color="#e9e9e9"/><stop offset="0.549" stop-color="#b1b1b1"/><stop offset="0.768" stop-color="#8c8c8c"/><stop offset="0.926" stop-color="#7f7f7f"/><stop offset="0.937" stop-color="#4f4f4f"/><stop offset="1.000" stop-color="#4f4f4f"/></linearGradient><linearGradient id="e65" x1="0" y1="0" x2="0" y2="1"><stop offset="0.000" stop-color="#8c8c8c"/><stop offset="0.040" stop-color="#aaaaaa"/><stop offset="0.075" stop-color="#eaeaea"/><stop offset="0.460" stop-color="#eaeaea"/><stop offset="0.559" stop-color="#b8b8b8"/><stop offset="0.774" stop-color="#979797"/><stop offset="0.930" stop-color="#8b8b8b"/><stop offset="0.940" stop-color="#5c5c5c"/><stop offset="1.000" stop-color="#5c5c5c"/></linearGradient><linearGradient id="e66" x1="0" y1="0" x2="0" y2="1"><stop offset="0.000" stop-color="#8c8c8c"/><stop offset="0.039" stop-color="#aaaaaa"/><stop offset="0.073" stop-color="#e8e8e8"/><stop offset="0.487" stop-color="#e8e8e8"/><stop offset="0.584" stop-color="#bababa"/><stop offset="0.786" stop-color="#999999"/><stop offset="0.932" stop-color="#8e8e8e"/><stop offset="0.942" stop-color="#5f5f5f"/><stop offset="1.000" stop-color="#5f5f5f"/></linearGradient><linearGradient id="e67" x1="0" y1="0" x2="0" y2="1"><stop offset="0.000" stop-color="#8c8c8c"/><stop offset="0.038" stop-color="#aaaaaa"/><stop offset="0.071" stop-color="#efefef"/><stop offset="0.492" stop-color="#efefef"/><stop offset="0.587" stop-color="#bfbfbf"/><stop offset="0.788" stop-color="#a1a1a1"/><stop offset="0.933" stop-color="#979797"/><stop offset="0.943" stop-color="#696969"/><stop offset="1.000" stop-color="#696969"/></linearGradient><linearGradient id="e68" x1="0" y1="0" x2="0" y2="1"><stop offset="0.000" stop-color="#8c8c8c"/><stop offset="0.037" stop-color="#aaaaaa"/><stop offset="0.069" stop-color="#f0f0f0"/><stop offset="0.472" stop-color="#f0f0f0"/><stop offset="0.564" stop-color="#bdbdbd"/><stop offset="0.776" stop-color="#9e9e9e"/><stop offset="0.936" stop-color="#939393"/><stop offset="0.945" stop-color="#656565"/><stop offset="1.000" stop-color="#656565"/></linearGradient><linearGradient id="e69" x1="0" y1="0" x2="0" y2="1"><stop offset="0.000" stop-color="#8c8c8c"/><stop offset="0.036" stop-color="#aaaaaa"/><stop offset="0.068" stop-color="#ececec"/><stop offset="0.479" stop-color="#ececec"/><stop offset="0.569" stop-color="#c0c0c0"/><stop offset="0.779" stop-color="#a3a3a3"/><stop offset="0.937" stop-color="#989898"/><stop offset="0.946" stop-color="#6b6b6b"/><stop offset="1.000" stop-color="#6b6b6b"/></linearGradient><linearGradient id="e70" x1="0" y1="0" x2="0" y2="1"><stop offset="0.000" stop-color="#8c8c8c"/><stop offset="0.036" stop-color="#aaaaaa"/><stop offset="0.067" stop-color="#ececec"/><stop offset="0.491" stop-color="#ececec"/><stop offset="0.580" stop-color="#c1c1c1"/><stop offset="0.784" stop-color="#a5a5a5"/><stop offset="0.938" stop-color="#9a9a9a"/><stop offset="0.947" stop-color="#6d6d6d"/><stop offset="1.000" stop-color="#6d6d6d"/></linearGradient><linearGradient id="e71" x1="0" y1="0" x2="0" y2="1"><stop offset="0.000" stop-color="#8c8c8c"/><stop offset="0.035" stop-color="#aaaaaa"/><stop offset="0.066" stop-color="#f0f0f0"/><stop offset="0.438" stop-color="#f0f0f0"/><stop offset="0.526" stop-color="#c5c5c5"/><stop offset="0.757" stop-color="#aaaaaa"/><stop offset="0.939" stop-color="#a1a1a1"/><stop offset="0.947" stop-color="#747474"/><stop offset="1.000" stop-color="#747474"/></linearGradient><linearGradient id="e72" x1="0" y1="0" x2="0" y2="1"><stop offset="0.000" stop-color="#8c8c8c"/><stop offset="0.036" stop-color="#aaaaaa"/><stop offset="0.067" stop-color="#efefef"/><stop offset="0.437" stop-color="#efefef"/><stop offset="0.526" stop-color="#d0d0d0"/><stop offset="0.757" stop-color="#bababa"/><stop offset="0.938" stop-color="#b3b3b3"/><stop offset="0.947" stop-color="#888888"/><stop offset="1.000" stop-color="#888888"/></linearGradient><linearGradient id="e73" x1="0" y1="0" x2="0" y2="1"><stop offset="0.000" stop-color="#8c8c8c"/><stop offset="0.037" stop-color="#aaaaaa"/><stop offset="0.070" stop-color="#e8e8e8"/><stop offset="0.468" stop-color="#e8e8e8"/><stop offset="0.560" stop-color="#d6d6d6"/><stop offset="0.774" stop-color="#c4c4c4"/><stop offset="0.935" stop-color="#bebebe"/><stop offset="0.944" stop-color="#949494"/><stop offset="1.000" stop-color="#949494"/></linearGradient><linearGradient id="e74" x1="0" y1="0" x2="0" y2="1"><stop offset="0.000" stop-color="#8c8c8c"/><stop offset="0.038" stop-color="#aaaaaa"/><stop offset="0.072" stop-color="#efefef"/><stop offset="0.542" stop-color="#efefef"/><stop offset="0.638" stop-color="#d3d3d3"/><stop offset="0.813" stop-color="#bfbfbf"/><stop offset="0.933" stop-color="#b8b8b8"/><stop offset="0.943" stop-color="#8e8e8e"/><stop offset="1.000" stop-color="#8e8e8e"/></linearGradient><linearGradient id="e75" x1="0" y1="0" x2="0" y2="1"><stop offset="0.000" stop-color="#8c8c8c"/><stop offset="0.039" stop-color="#aaaaaa"/><stop offset="0.073" stop-color="#eeeeee"/><stop offset="0.511" stop-color="#eeeeee"/><stop offset="0.609" stop-color="#d0d0d0"/><stop offset="0.798" stop-color="#bbbbbb"/><stop offset="0.932" stop-color="#b4b4b4"/><stop offset="0.941" stop-color="#898989"/><stop offset="1.000" stop-color="#898989"/></linearGradient><linearGradient id="e76" x1="0" y1="0" x2="0" y2="1"><stop offset="0.000" stop-color="#8c8c8c"/><stop offset="0.039" stop-color="#aaaaaa"/><stop offset="0.073" stop-color="#e9e9e9"/><stop offset="0.583" stop-color="#e9e9e9"/><stop offset="0.681" stop-color="#cecece"/><stop offset="0.834" stop-color="#b9b9b9"/><stop offset="0.931" stop-color="#b1b1b1"/><stop offset="0.941" stop-color="#868686"/><stop offset="1.000" stop-color="#868686"/></linearGradient><linearGradient id="e77" x1="0" y1="0" x2="0" y2="1"><stop offset="0.000" stop-color="#8c8c8c"/><stop offset="0.040" stop-color="#aaaaaa"/><stop offset="0.075" stop-color="#f1f1f1"/><stop offset="0.600" stop-color="#f1f1f1"/><stop offset="0.700" stop-color="#d2d2d2"/><stop offset="0.844" stop-color="#bebebe"/><stop offset="0.930" stop-color="#b7b7b7"/><stop offset="0.940" stop-color="#8d8d8d"/><stop offset="1.000" stop-color="#8d8d8d"/></linearGradient><linearGradient id="e78" x1="0" y1="0" x2="0" y2="1"><stop offset="0.000" stop-color="#8c8c8c"/><stop offset="0.041" stop-color="#aaaaaa"/><stop offset="0.076" stop-color="#ececec"/><stop offset="0.585" stop-color="#ececec"/><stop offset="0.686" stop-color="#d4d4d4"/><stop offset="0.837" stop-color="#c1c1c1"/><stop offset="0.929" stop-color="#bababa"/><stop offset="0.939" stop-color="#909090"/><stop offset="1.000" stop-color="#909090"/></linearGradient><linearGradient id="e79" x1="0" y1="0" x2="0" y2="1"><stop offset="0.000" stop-color="#8c8c8c"/><stop offset="0.040" stop-color="#aaaaaa"/><stop offset="0.076" stop-color="#eeeeee"/><stop offset="0.568" stop-color="#eeeeee"/><stop offset="0.669" stop-color="#d6d6d6"/><stop offset="0.828" stop-color="#c4c4c4"/><stop offset="0.929" stop-color="#bdbdbd"/><stop offset="0.939" stop-color="#949494"/><stop offset="1.000" stop-color="#949494"/></linearGradient><linearGradient id="e80" x1="0" y1="0" x2="0" y2="1"><stop offset="0.000" stop-color="#8c8c8c"/><stop offset="0.040" stop-color="#aaaaaa"/><stop offset="0.074" stop-color="#e7e7e7"/><stop offset="0.593" stop-color="#e7e7e7"/><stop offset="0.692" stop-color="#d7d7d7"/><stop offset="0.840" stop-color="#c5c5c5"/><stop offset="0.931" stop-color="#bfbfbf"/><stop offset="0.941" stop-color="#959595"/><stop offset="1.000" stop-color="#959595"/></linearGradient><linearGradient id="e81" x1="0" y1="0" x2="0" y2="1"><stop offset="0.000" stop-color="#8c8c8c"/><stop offset="0.039" stop-color="#aaaaaa"/><stop offset="0.073" stop-color="#e8e8e8"/><stop offset="0.652" stop-color="#e8e8e8"/><stop offset="0.749" stop-color="#d9d9d9"/><stop offset="0.868" stop-color="#c8c8c8"/><stop offset="0.932" stop-color="#c2c2c2"/><stop offset="0.942" stop-color="#999999"/><stop offset="1.000" stop-color="#999999"/></linearGradient><linearGradient id="e82" x1="0" y1="0" x2="0" y2="1"><stop offset="0.000" stop-color="#8c8c8c"/><stop offset="0.038" stop-color="#aaaaaa"/><stop offset="0.072" stop-color="#e8e8e8"/><stop offset="0.616" stop-color="#e8e8e8"/><stop offset="0.711" stop-color="#dbdbdb"/><stop offset="0.850" stop-color="#cbcbcb"/><stop offset="0.933" stop-color="#c5c5c5"/><stop offset="0.943" stop-color="#9d9d9d"/><stop offset="1.000" stop-color="#9d9d9d"/></linearGradient><linearGradient id="e83" x1="0" y1="0" x2="0" y2="1"><stop offset="0.000" stop-color="#8c8c8c"/><stop offset="0.038" stop-color="#aaaaaa"/><stop offset="0.072" stop-color="#eaeaea"/><stop offset="0.635" stop-color="#eaeaea"/><stop offset="0.731" stop-color="#dfdfdf"/><stop offset="0.860" stop-color="#d1d1d1"/><stop offset="0.933" stop-color="#cccccc"/><stop offset="0.943" stop-color="#a5a5a5"/><stop offset="1.000" stop-color="#a5a5a5"/></linearGradient><linearGradient id="e84" x1="0" y1="0" x2="0" y2="1"><stop offset="0.000" stop-color="#8c8c8c"/><stop offset="0.037" stop-color="#aaaaaa"/><stop offset="0.069" stop-color="#efefef"/><stop offset="0.651" stop-color="#efefef"/><stop offset="0.743" stop-color="#e2e2e2"/><stop offset="0.866" stop-color="#d6d6d6"/><stop offset="0.935" stop-color="#d2d2d2"/><stop offset="0.945" stop-color="#ababab"/><stop offset="1.000" stop-color="#ababab"/></linearGradient><linearGradient id="e85" x1="0" y1="0" x2="0" y2="1"><stop offset="0.000" stop-color="#8c8c8c"/><stop offset="0.036" stop-color="#aaaaaa"/><stop offset="0.068" stop-color="#ededed"/><stop offset="0.694" stop-color="#ededed"/><stop offset="0.784" stop-color="#e6e6e6"/><stop offset="0.886" stop-color="#dcdcdc"/><stop offset="0.937" stop-color="#d8d8d8"/><stop offset="0.946" stop-color="#b1b1b1"/><stop offset="1.000" stop-color="#b1b1b1"/></linearGradient><linearGradient id="e86" x1="0" y1="0" x2="0" y2="1"><stop offset="0.000" stop-color="#8c8c8c"/><stop offset="0.035" stop-color="#aaaaaa"/><stop offset="0.065" stop-color="#eeeeee"/><stop offset="0.665" stop-color="#eeeeee"/><stop offset="0.752" stop-color="#ebebeb"/><stop offset="0.870" stop-color="#e4e4e4"/><stop offset="0.939" stop-color="#e1e1e1"/><stop offset="0.948" stop-color="#bbbbbb"/><stop offset="1.000" stop-color="#bbbbbb"/></linearGradient><linearGradient id="e87" x1="0" y1="0" x2="0" y2="1"><stop offset="0.000" stop-color="#8c8c8c"/><stop offset="0.034" stop-color="#aaaaaa"/><stop offset="0.063" stop-color="#ededed"/><stop offset="0.665" stop-color="#ededed"/><stop offset="0.749" stop-color="#ebebeb"/><stop offset="0.869" stop-color="#e4e4e4"/><stop offset="0.941" stop-color="#e1e1e1"/><stop offset="0.949" stop-color="#bcbcbc"/><stop offset="1.000" stop-color="#bcbcbc"/></linearGradient><linearGradient id="e88" x1="0" y1="0" x2="0" y2="1"><stop offset="0.000" stop-color="#8c8c8c"/><stop offset="0.033" stop-color="#aaaaaa"/><stop offset="0.061" stop-color="#e8e8e8"/><stop offset="0.647" stop-color="#e8e8e8"/><stop offset="0.728" stop-color="#ececec"/><stop offset="0.859" stop-color="#e4e4e4"/><stop offset="0.943" stop-color="#e2e2e2"/><stop offset="0.951" stop-color="#bcbcbc"/><stop offset="1.000" stop-color="#bcbcbc"/></linearGradient><linearGradient id="e89" x1="0" y1="0" x2="0" y2="1"><stop offset="0.000" stop-color="#8c8c8c"/><stop offset="0.031" stop-color="#aaaaaa"/><stop offset="0.059" stop-color="#ededed"/><stop offset="0.624" stop-color="#ededed"/><stop offset="0.702" stop-color="#ececec"/><stop offset="0.846" stop-color="#e6e6e6"/><stop offset="0.945" stop-color="#e3e3e3"/><stop offset="0.953" stop-color="#bebebe"/><stop offset="1.000" stop-color="#bebebe"/></linearGradient><linearGradient id="e90" x1="0" y1="0" x2="0" y2="1"><stop offset="0.000" stop-color="#8c8c8c"/><stop offset="0.030" stop-color="#aaaaaa"/><stop offset="0.056" stop-color="#ececec"/><stop offset="0.563" stop-color="#ececec"/><stop offset="0.639" stop-color="#ededed"/><stop offset="0.815" stop-color="#e6e6e6"/><stop offset="0.947" stop-color="#e4e4e4"/><stop offset="0.955" stop-color="#bfbfbf"/><stop offset="1.000" stop-color="#bfbfbf"/></linearGradient><linearGradient id="e91" x1="0" y1="0" x2="0" y2="1"><stop offset="0.000" stop-color="#8c8c8c"/><stop offset="0.029" stop-color="#aaaaaa"/><stop offset="0.055" stop-color="#e8e8e8"/><stop offset="0.514" stop-color="#e8e8e8"/><stop offset="0.642" stop-color="#ebebeb"/><stop offset="0.491" stop-color="#e5e5e5"/><stop offset="0.746" stop-color="#d3d3d3"/><stop offset="0.945" stop-color="#b3b3b3"/><stop offset="1.000" stop-color="#a9a9a9"/></linearGradient><linearGradient id="e92" x1="0" y1="0" x2="0" y2="1"><stop offset="0.000" stop-color="#8c8c8c"/><stop offset="0.028" stop-color="#aaaaaa"/><stop offset="0.053" stop-color="#efefef"/><stop offset="0.502" stop-color="#efefef"/><stop offset="0.625" stop-color="#efefef"/><stop offset="0.508" stop-color="#e4e4e4"/><stop offset="0.754" stop-color="#d1d1d1"/><stop offset="0.947" stop-color="#afafaf"/><stop offset="1.000" stop-color="#a5a5a5"/></linearGradient><linearGradient id="e93" x1="0" y1="0" x2="0" y2="1"><stop offset="0.000" stop-color="#8c8c8c"/><stop offset="0.027" stop-color="#aaaaaa"/><stop offset="0.051" stop-color="#eaeaea"/><stop offset="0.472" stop-color="#eaeaea"/><stop offset="0.591" stop-color="#ededed"/><stop offset="0.524" stop-color="#e4e4e4"/><stop offset="0.762" stop-color="#cfcfcf"/><stop offset="0.949" stop-color="#acacac"/><stop offset="1.000" stop-color="#a2a2a2"/></linearGradient><linearGradient id="e94" x1="0" y1="0" x2="0" y2="1"><stop offset="0.000" stop-color="#8c8c8c"/><stop offset="0.026" stop-color="#aaaaaa"/><stop offset="0.048" stop-color="#eeeeee"/><stop offset="0.475" stop-color="#eeeeee"/><stop offset="0.588" stop-color="#efefef"/><stop offset="0.547" stop-color="#e3e3e3"/><stop offset="0.774" stop-color="#cbcbcb"/><stop offset="0.952" stop-color="#a7a7a7"/><stop offset="1.000" stop-color="#9d9d9d"/></linearGradient><linearGradient id="e95" x1="0" y1="0" x2="0" y2="1"><stop offset="0.000" stop-color="#8c8c8c"/><stop offset="0.020" stop-color="#aaaaaa"/><stop offset="0.038" stop-color="#f0f0f0"/><stop offset="0.358" stop-color="#f0f0f0"/><stop offset="0.447" stop-color="#efefef"/><stop offset="0.642" stop-color="#dedede"/><stop offset="0.821" stop-color="#b9b9b9"/><stop offset="0.962" stop-color="#8c8c8c"/><stop offset="1.000" stop-color="#828282"/></linearGradient><linearGradient id="e96" x1="0" y1="0" x2="0" y2="1"><stop offset="0.000" stop-color="#8c8c8c"/><stop offset="0.019" stop-color="#aaaaaa"/><stop offset="0.035" stop-color="#ececec"/><stop offset="0.354" stop-color="#ececec"/><stop offset="0.436" stop-color="#ededed"/><stop offset="0.672" stop-color="#dcdcdc"/><stop offset="0.836" stop-color="#b1b1b1"/><stop offset="0.965" stop-color="#808080"/><stop offset="1.000" stop-color="#767676"/></linearGradient><linearGradient id="e97" x1="0" y1="0" x2="0" y2="1"><stop offset="0.000" stop-color="#8c8c8c"/><stop offset="0.018" stop-color="#aaaaaa"/><stop offset="0.035" stop-color="#eeeeee"/><stop offset="0.353" stop-color="#eeeeee"/><stop offset="0.434" stop-color="#eeeeee"/><stop offset="0.677" stop-color="#dcdcdc"/><stop offset="0.839" stop-color="#afafaf"/><stop offset="0.965" stop-color="#7e7e7e"/><stop offset="1.000" stop-color="#747474"/></linearGradient><linearGradient id="e98" x1="0" y1="0" x2="0" y2="1"><stop offset="0.000" stop-color="#8c8c8c"/><stop offset="0.018" stop-color="#aaaaaa"/><stop offset="0.034" stop-color="#eeeeee"/><stop offset="0.335" stop-color="#eeeeee"/><stop offset="0.415" stop-color="#eeeeee"/><stop offset="0.683" stop-color="#dcdcdc"/><stop offset="0.841" stop-color="#afafaf"/><stop offset="0.966" stop-color="#7d7d7d"/><stop offset="1.000" stop-color="#737373"/></linearGradient><linearGradient id="e99" x1="0" y1="0" x2="0" y2="1"><stop offset="0.000" stop-color="#8c8c8c"/><stop offset="0.018" stop-color="#aaaaaa"/><stop offset="0.034" stop-color="#e8e8e8"/><stop offset="0.315" stop-color="#e8e8e8"/><stop offset="0.393" stop-color="#ebebeb"/><stop offset="0.686" stop-color="#dcdcdc"/><stop offset="0.843" stop-color="#afafaf"/><stop offset="0.966" stop-color="#7d7d7d"/><stop offset="1.000" stop-color="#737373"/></linearGradient><linearGradient id="e100" x1="0" y1="0" x2="0" y2="1"><stop offset="0.000" stop-color="#8c8c8c"/><stop offset="0.018" stop-color="#aaaaaa"/><stop offset="0.034" stop-color="#eaeaea"/><stop offset="0.318" stop-color="#eaeaea"/><stop offset="0.397" stop-color="#ececec"/><stop offset="0.684" stop-color="#dcdcdc"/><stop offset="0.842" stop-color="#afafaf"/><stop offset="0.966" stop-color="#7d7d7d"/><stop offset="1.000" stop-color="#737373"/></linearGradient><linearGradient id="e101" x1="0" y1="0" x2="0" y2="1"><stop offset="0.000" stop-color="#8c8c8c"/><stop offset="0.018" stop-color="#aaaaaa"/><stop offset="0.034" stop-color="#f0f0f0"/><stop offset="0.337" stop-color="#f0f0f0"/><stop offset="0.416" stop-color="#efefef"/><stop offset="0.683" stop-color="#dcdcdc"/><stop offset="0.841" stop-color="#afafaf"/><stop offset="0.966" stop-color="#7d7d7d"/><stop offset="1.000" stop-color="#737373"/></linearGradient><linearGradient id="e102" x1="0" y1="0" x2="0" y2="1"><stop offset="0.000" stop-color="#8c8c8c"/><stop offset="0.018" stop-color="#aaaaaa"/><stop offset="0.034" stop-color="#eaeaea"/><stop offset="0.330" stop-color="#eaeaea"/><stop offset="0.409" stop-color="#ededed"/><stop offset="0.682" stop-color="#dcdcdc"/><stop offset="0.841" stop-color="#afafaf"/><stop offset="0.966" stop-color="#7d7d7d"/><stop offset="1.000" stop-color="#737373"/></linearGradient><linearGradient id="e103" x1="0" y1="0" x2="0" y2="1"><stop offset="0.000" stop-color="#8c8c8c"/><stop offset="0.018" stop-color="#aaaaaa"/><stop offset="0.034" stop-color="#eaeaea"/><stop offset="0.349" stop-color="#eaeaea"/><stop offset="0.429" stop-color="#ececec"/><stop offset="0.680" stop-color="#dcdcdc"/><stop offset="0.840" stop-color="#afafaf"/><stop offset="0.966" stop-color="#7d7d7d"/><stop offset="1.000" stop-color="#737373"/></linearGradient><linearGradient id="e104" x1="0" y1="0" x2="0" y2="1"><stop offset="0.000" stop-color="#8c8c8c"/><stop offset="0.018" stop-color="#aaaaaa"/><stop offset="0.034" stop-color="#e9e9e9"/><stop offset="0.348" stop-color="#e9e9e9"/><stop offset="0.427" stop-color="#ececec"/><stop offset="0.682" stop-color="#dcdcdc"/><stop offset="0.841" stop-color="#afafaf"/><stop offset="0.966" stop-color="#7d7d7d"/><stop offset="1.000" stop-color="#737373"/></linearGradient><linearGradient id="e105" x1="0" y1="0" x2="0" y2="1"><stop offset="0.000" stop-color="#8c8c8c"/><stop offset="0.018" stop-color="#aaaaaa"/><stop offset="0.035" stop-color="#e7e7e7"/><stop offset="0.333" stop-color="#e7e7e7"/><stop offset="0.414" stop-color="#ebebeb"/><stop offset="0.677" stop-color="#dcdcdc"/><stop offset="0.838" stop-color="#b0b0b0"/><stop offset="0.965" stop-color="#7e7e7e"/><stop offset="1.000" stop-color="#747474"/></linearGradient><linearGradient id="e106" x1="0" y1="0" x2="0" y2="1"><stop offset="0.000" stop-color="#8c8c8c"/><stop offset="0.018" stop-color="#aaaaaa"/><stop offset="0.034" stop-color="#e9e9e9"/><stop offset="0.329" stop-color="#e9e9e9"/><stop offset="0.407" stop-color="#ececec"/><stop offset="0.685" stop-color="#dcdcdc"/><stop offset="0.842" stop-color="#afafaf"/><stop offset="0.966" stop-color="#7d7d7d"/><stop offset="1.000" stop-color="#737373"/></linearGradient><linearGradient id="e107" x1="0" y1="0" x2="0" y2="1"><stop offset="0.000" stop-color="#8c8c8c"/><stop offset="0.018" stop-color="#aaaaaa"/><stop offset="0.033" stop-color="#e8e8e8"/><stop offset="0.321" stop-color="#e8e8e8"/><stop offset="0.399" stop-color="#ececec"/><stop offset="0.689" stop-color="#dcdcdc"/><stop offset="0.844" stop-color="#afafaf"/><stop offset="0.967" stop-color="#7d7d7d"/><stop offset="1.000" stop-color="#737373"/></linearGradient><linearGradient id="e108" x1="0" y1="0" x2="0" y2="1"><stop offset="0.000" stop-color="#8c8c8c"/><stop offset="0.017" stop-color="#aaaaaa"/><stop offset="0.033" stop-color="#eaeaea"/><stop offset="0.310" stop-color="#eaeaea"/><stop offset="0.387" stop-color="#ededed"/><stop offset="0.694" stop-color="#dcdcdc"/><stop offset="0.847" stop-color="#afafaf"/><stop offset="0.967" stop-color="#7d7d7d"/><stop offset="1.000" stop-color="#737373"/></linearGradient><linearGradient id="e109" x1="0" y1="0" x2="0" y2="1"><stop offset="0.000" stop-color="#8c8c8c"/><stop offset="0.017" stop-color="#aaaaaa"/><stop offset="0.032" stop-color="#efefef"/><stop offset="0.318" stop-color="#efefef"/><stop offset="0.393" stop-color="#efefef"/><stop offset="0.700" stop-color="#dcdcdc"/><stop offset="0.850" stop-color="#afafaf"/><stop offset="0.968" stop-color="#7d7d7d"/><stop offset="1.000" stop-color="#737373"/></linearGradient><linearGradient id="e110" x1="0" y1="0" x2="0" y2="1"><stop offset="0.000" stop-color="#8c8c8c"/><stop offset="0.017" stop-color="#aaaaaa"/><stop offset="0.032" stop-color="#ebebeb"/><stop offset="0.306" stop-color="#ebebeb"/><stop offset="0.380" stop-color="#ededed"/><stop offset="0.702" stop-color="#dcdcdc"/><stop offset="0.851" stop-color="#afafaf"/><stop offset="0.968" stop-color="#7d7d7d"/><stop offset="1.000" stop-color="#737373"/></linearGradient><linearGradient id="e111" x1="0" y1="0" x2="0" y2="1"><stop offset="0.000" stop-color="#8c8c8c"/><stop offset="0.017" stop-color="#aaaaaa"/><stop offset="0.032" stop-color="#eeeeee"/><stop offset="0.313" stop-color="#eeeeee"/><stop offset="0.388" stop-color="#efefef"/><stop offset="0.704" stop-color="#dcdcdc"/><stop offset="0.852" stop-color="#afafaf"/><stop offset="0.968" stop-color="#7d7d7d"/><stop offset="1.000" stop-color="#737373"/></linearGradient><linearGradient id="e112" x1="0" y1="0" x2="0" y2="1"><stop offset="0.000" stop-color="#8c8c8c"/><stop offset="0.017" stop-color="#aaaaaa"/><stop offset="0.032" stop-color="#f0f0f0"/><stop offset="0.316" stop-color="#f0f0f0"/><stop offset="0.390" stop-color="#f0f0f0"/><stop offset="0.701" stop-color="#dcdcdc"/><stop offset="0.851" stop-color="#afafaf"/><stop offset="0.968" stop-color="#7d7d7d"/><stop offset="1.000" stop-color="#737373"/></linearGradient><linearGradient id="e113" x1="0" y1="0" x2="0" y2="1"><stop offset="0.000" stop-color="#8c8c8c"/><stop offset="0.017" stop-color="#aaaaaa"/><stop offset="0.032" stop-color="#e8e8e8"/><stop offset="0.309" stop-color="#e8e8e8"/><stop offset="0.382" stop-color="#ececec"/><stop offset="0.705" stop-color="#dcdcdc"/><stop offset="0.852" stop-color="#afafaf"/><stop offset="0.968" stop-color="#7d7d7d"/><stop offset="1.000" stop-color="#737373"/></linearGradient><linearGradient id="e114" x1="0" y1="0" x2="0" y2="1"><stop offset="0.000" stop-color="#8c8c8c"/><stop offset="0.017" stop-color="#aaaaaa"/><stop offset="0.032" stop-color="#efefef"/><stop offset="0.319" stop-color="#efefef"/><stop offset="0.393" stop-color="#efefef"/><stop offset="0.704" stop-color="#dcdcdc"/><stop offset="0.852" stop-color="#afafaf"/><stop offset="0.968" stop-color="#7d7d7d"/><stop offset="1.000" stop-color="#737373"/></linearGradient><linearGradient id="e115" x1="0" y1="0" x2="0" y2="1"><stop offset="0.000" stop-color="#8c8c8c"/><stop offset="0.017" stop-color="#aaaaaa"/><stop offset="0.032" stop-color="#eeeeee"/><stop offset="0.314" stop-color="#eeeeee"/><stop offset="0.387" stop-color="#efefef"/><stop offset="0.705" stop-color="#dcdcdc"/><stop offset="0.853" stop-color="#afafaf"/><stop offset="0.968" stop-color="#7d7d7d"/><stop offset="1.000" stop-color="#737373"/></linearGradient><linearGradient id="e116" x1="0" y1="0" x2="0" y2="1"><stop offset="0.000" stop-color="#8c8c8c"/><stop offset="0.017" stop-color="#aaaaaa"/><stop offset="0.032" stop-color="#e8e8e8"/><stop offset="0.304" stop-color="#e8e8e8"/><stop offset="0.378" stop-color="#ededed"/><stop offset="0.704" stop-color="#dcdcdc"/><stop offset="0.852" stop-color="#afafaf"/><stop offset="0.968" stop-color="#7d7d7d"/><stop offset="1.000" stop-color="#737373"/></linearGradient><linearGradient id="e117" x1="0" y1="0" x2="0" y2="1"><stop offset="0.000" stop-color="#8c8c8c"/><stop offset="0.017" stop-color="#aaaaaa"/><stop offset="0.032" stop-color="#ededed"/><stop offset="0.312" stop-color="#ededed"/><stop offset="0.386" stop-color="#eeeeee"/><stop offset="0.704" stop-color="#dcdcdc"/><stop offset="0.852" stop-color="#afafaf"/><stop offset="0.968" stop-color="#7d7d7d"/><stop offset="1.000" stop-color="#737373"/></linearGradient><linearGradient id="e118" x1="0" y1="0" x2="0" y2="1"><stop offset="0.000" stop-color="#8c8c8c"/><stop offset="0.017" stop-color="#aaaaaa"/><stop offset="0.031" stop-color="#ececec"/><stop offset="0.290" stop-color="#ececec"/><stop offset="0.364" stop-color="#eeeeee"/><stop offset="0.706" stop-color="#dcdcdc"/><stop offset="0.853" stop-color="#afafaf"/><stop offset="0.969" stop-color="#7d7d7d"/><stop offset="1.000" stop-color="#737373"/></linearGradient><linearGradient id="e119" x1="0" y1="0" x2="0" y2="1"><stop offset="0.000" stop-color="#8c8c8c"/><stop offset="0.017" stop-color="#aaaaaa"/><stop offset="0.031" stop-color="#ececec"/><stop offset="0.308" stop-color="#ececec"/><stop offset="0.381" stop-color="#eeeeee"/><stop offset="0.706" stop-color="#dcdcdc"/><stop offset="0.853" stop-color="#afafaf"/><stop offset="0.969" stop-color="#7d7d7d"/><stop offset="1.000" stop-color="#737373"/></linearGradient><linearGradient id="e120" x1="0" y1="0" x2="0" y2="1"><stop offset="0.000" stop-color="#8c8c8c"/><stop offset="0.017" stop-color="#aaaaaa"/><stop offset="0.032" stop-color="#eeeeee"/><stop offset="0.300" stop-color="#eeeeee"/><stop offset="0.374" stop-color="#f0f0f0"/><stop offset="0.705" stop-color="#dcdcdc"/><stop offset="0.852" stop-color="#afafaf"/><stop offset="0.968" stop-color="#7d7d7d"/><stop offset="1.000" stop-color="#737373"/></linearGradient><linearGradient id="e121" x1="0" y1="0" x2="0" y2="1"><stop offset="0.000" stop-color="#8c8c8c"/><stop offset="0.018" stop-color="#aaaaaa"/><stop offset="0.034" stop-color="#eeeeee"/><stop offset="0.324" stop-color="#eeeeee"/><stop offset="0.404" stop-color="#efefef"/><stop offset="0.680" stop-color="#dcdcdc"/><stop offset="0.840" stop-color="#afafaf"/><stop offset="0.966" stop-color="#7d7d7d"/><stop offset="1.000" stop-color="#737373"/></linearGradient><linearGradient id="e122" x1="0" y1="0" x2="0" y2="1"><stop offset="0.000" stop-color="#8c8c8c"/><stop offset="0.020" stop-color="#aaaaaa"/><stop offset="0.038" stop-color="#ececec"/><stop offset="0.367" stop-color="#ececec"/><stop offset="0.456" stop-color="#eaeaea"/><stop offset="0.644" stop-color="#dedede"/><stop offset="0.822" stop-color="#b9b9b9"/><stop offset="0.962" stop-color="#8b8b8b"/><stop offset="1.000" stop-color="#818181"/></linearGradient><linearGradient id="e123" x1="0" y1="0" x2="0" y2="1"><stop offset="0.000" stop-color="#8c8c8c"/><stop offset="0.023" stop-color="#aaaaaa"/><stop offset="0.044" stop-color="#efefef"/><stop offset="0.429" stop-color="#efefef"/><stop offset="0.531" stop-color="#e9e9e9"/><stop offset="0.593" stop-color="#e1e1e1"/><stop offset="0.797" stop-color="#c3c3c3"/><stop offset="0.956" stop-color="#9c9c9c"/><stop offset="1.000" stop-color="#929292"/></linearGradient><linearGradient id="e124" x1="0" y1="0" x2="0" y2="1"><stop offset="0.000" stop-color="#8c8c8c"/><stop offset="0.026" stop-color="#aaaaaa"/><stop offset="0.049" stop-color="#e8e8e8"/><stop offset="0.465" stop-color="#e8e8e8"/><stop offset="0.580" stop-color="#e4e4e4"/><stop offset="0.542" stop-color="#e3e3e3"/><stop offset="0.771" stop-color="#cccccc"/><stop offset="0.951" stop-color="#a8a8a8"/><stop offset="1.000" stop-color="#9e9e9e"/></linearGradient><linearGradient id="e125" x1="0" y1="0" x2="0" y2="1"><stop offset="0.000" stop-color="#8c8c8c"/><stop offset="0.029" stop-color="#aaaaaa"/><stop offset="0.054" stop-color="#ededed"/><stop offset="0.501" stop-color="#ededed"/><stop offset="0.628" stop-color="#e3e3e3"/><stop offset="0.494" stop-color="#e4e4e4"/><stop offset="0.747" stop-color="#d2d2d2"/><stop offset="0.946" stop-color="#b2b2b2"/><stop offset="1.000" stop-color="#a8a8a8"/></linearGradient><linearGradient id="e126" x1="0" y1="0" x2="0" y2="1"><stop offset="0.000" stop-color="#8c8c8c"/><stop offset="0.032" stop-color="#aaaaaa"/><stop offset="0.059" stop-color="#eeeeee"/><stop offset="0.588" stop-color="#eeeeee"/><stop offset="0.667" stop-color="#d7d7d7"/><stop offset="0.828" stop-color="#c6c6c6"/><stop offset="0.945" stop-color="#bfbfbf"/><stop offset="0.952" stop-color="#969696"/><stop offset="1.000" stop-color="#969696"/></linearGradient><linearGradient id="e127" x1="0" y1="0" x2="0" y2="1"><stop offset="0.000" stop-color="#8c8c8c"/><stop offset="0.033" stop-color="#aaaaaa"/><stop offset="0.061" stop-color="#ececec"/><stop offset="0.527" stop-color="#ececec"/><stop offset="0.609" stop-color="#d2d2d2"/><stop offset="0.799" stop-color="#bebebe"/><stop offset="0.943" stop-color="#b7b7b7"/><stop offset="0.951" stop-color="#8d8d8d"/><stop offset="1.000" stop-color="#8d8d8d"/></linearGradient><linearGradient id="e128" x1="0" y1="0" x2="0" y2="1"><stop offset="0.000" stop-color="#8c8c8c"/><stop offset="0.035" stop-color="#aaaaaa"/><stop offset="0.065" stop-color="#f0f0f0"/><stop offset="0.471" stop-color="#f0f0f0"/><stop offset="0.557" stop-color="#cecece"/><stop offset="0.773" stop-color="#b8b8b8"/><stop offset="0.940" stop-color="#b0b0b0"/><stop offset="0.948" stop-color="#858585"/><stop offset="1.000" stop-color="#858585"/></linearGradient><linearGradient id="e129" x1="0" y1="0" x2="0" y2="1"><stop offset="0.000" stop-color="#8c8c8c"/><stop offset="0.036" stop-color="#aaaaaa"/><stop offset="0.067" stop-color="#e7e7e7"/><stop offset="0.431" stop-color="#e7e7e7"/><stop offset="0.520" stop-color="#c3c3c3"/><stop offset="0.755" stop-color="#a7a7a7"/><stop offset="0.938" stop-color="#9d9d9d"/><stop offset="0.947" stop-color="#707070"/><stop offset="1.000" stop-color="#707070"/></linearGradient><linearGradient id="e130" x1="0" y1="0" x2="0" y2="1"><stop offset="0.000" stop-color="#8c8c8c"/><stop offset="0.037" stop-color="#aaaaaa"/><stop offset="0.070" stop-color="#ebebeb"/><stop offset="0.362" stop-color="#ebebeb"/><stop offset="0.455" stop-color="#bbbbbb"/><stop offset="0.722" stop-color="#9c9c9c"/><stop offset="0.935" stop-color="#919191"/><stop offset="0.944" stop-color="#626262"/><stop offset="1.000" stop-color="#626262"/></linearGradient><linearGradient id="e131" x1="0" y1="0" x2="0" y2="1"><stop offset="0.000" stop-color="#8c8c8c"/><stop offset="0.039" stop-color="#aaaaaa"/><stop offset="0.074" stop-color="#e9e9e9"/><stop offset="0.362" stop-color="#e9e9e9"/><stop offset="0.461" stop-color="#b4b4b4"/><stop offset="0.724" stop-color="#919191"/><stop offset="0.931" stop-color="#848484"/><stop offset="0.941" stop-color="#555555"/><stop offset="1.000" stop-color="#555555"/></linearGradient><linearGradient id="e132" x1="0" y1="0" x2="0" y2="1"><stop offset="0.000" stop-color="#8c8c8c"/><stop offset="0.041" stop-color="#aaaaaa"/><stop offset="0.077" stop-color="#f1f1f1"/><stop offset="0.333" stop-color="#f1f1f1"/><stop offset="0.436" stop-color="#b0b0b0"/><stop offset="0.711" stop-color="#8b8b8b"/><stop offset="0.928" stop-color="#7e7e7e"/><stop offset="0.938" stop-color="#4e4e4e"/><stop offset="1.000" stop-color="#4e4e4e"/></linearGradient><linearGradient id="e133" x1="0" y1="0" x2="0" y2="1"><stop offset="0.000" stop-color="#8c8c8c"/><stop offset="0.042" stop-color="#aaaaaa"/><stop offset="0.078" stop-color="#f0f0f0"/><stop offset="0.373" stop-color="#f0f0f0"/><stop offset="0.478" stop-color="#adadad"/><stop offset="0.732" stop-color="#868686"/><stop offset="0.927" stop-color="#787878"/><stop offset="0.937" stop-color="#474747"/><stop offset="1.000" stop-color="#474747"/></linearGradient><linearGradient id="e134" x1="0" y1="0" x2="0" y2="1"><stop offset="0.000" stop-color="#8c8c8c"/><stop offset="0.044" stop-color="#aaaaaa"/><stop offset="0.082" stop-color="#ececec"/><stop offset="0.323" stop-color="#ececec"/><stop offset="0.432" stop-color="#a8a8a8"/><stop offset="0.709" stop-color="#808080"/><stop offset="0.924" stop-color="#717171"/><stop offset="0.935" stop-color="#3f3f3f"/><stop offset="1.000" stop-color="#3f3f3f"/></linearGradient><linearGradient id="e135" x1="0" y1="0" x2="0" y2="1"><stop offset="0.000" stop-color="#8c8c8c"/><stop offset="0.044" stop-color="#aaaaaa"/><stop offset="0.083" stop-color="#ececec"/><stop offset="0.341" stop-color="#ececec"/><stop offset="0.452" stop-color="#acacac"/><stop offset="0.719" stop-color="#848484"/><stop offset="0.922" stop-color="#767676"/><stop offset="0.934" stop-color="#454545"/><stop offset="1.000" stop-color="#454545"/></linearGradient><linearGradient id="e136" x1="0" y1="0" x2="0" y2="1"><stop offset="0.000" stop-color="#8c8c8c"/><stop offset="0.045" stop-color="#aaaaaa"/><stop offset="0.083" stop-color="#eaeaea"/><stop offset="0.376" stop-color="#eaeaea"/><stop offset="0.488" stop-color="#acacac"/><stop offset="0.737" stop-color="#868686"/><stop offset="0.922" stop-color="#787878"/><stop offset="0.933" stop-color="#474747"/><stop offset="1.000" stop-color="#474747"/></linearGradient><linearGradient id="e137" x1="0" y1="0" x2="0" y2="1"><stop offset="0.000" stop-color="#8c8c8c"/><stop offset="0.044" stop-color="#aaaaaa"/><stop offset="0.083" stop-color="#efefef"/><stop offset="0.304" stop-color="#efefef"/><stop offset="0.414" stop-color="#a8a8a8"/><stop offset="0.700" stop-color="#7f7f7f"/><stop offset="0.922" stop-color="#707070"/><stop offset="0.934" stop-color="#3f3f3f"/><stop offset="1.000" stop-color="#3f3f3f"/></linearGradient><linearGradient id="e138" x1="0" y1="0" x2="0" y2="1"><stop offset="0.000" stop-color="#8c8c8c"/><stop offset="0.042" stop-color="#aaaaaa"/><stop offset="0.079" stop-color="#f0f0f0"/><stop offset="0.290" stop-color="#f0f0f0"/><stop offset="0.394" stop-color="#a8a8a8"/><stop offset="0.691" stop-color="#7f7f7f"/><stop offset="0.927" stop-color="#707070"/><stop offset="0.937" stop-color="#3e3e3e"/><stop offset="1.000" stop-color="#3e3e3e"/></linearGradient><linearGradient id="e139" x1="0" y1="0" x2="0" y2="1"><stop offset="0.000" stop-color="#8c8c8c"/><stop offset="0.042" stop-color="#aaaaaa"/><stop offset="0.078" stop-color="#f1f1f1"/><stop offset="0.300" stop-color="#f1f1f1"/><stop offset="0.404" stop-color="#aaaaaa"/><stop offset="0.695" stop-color="#828282"/><stop offset="0.927" stop-color="#747474"/><stop offset="0.938" stop-color="#434343"/><stop offset="1.000" stop-color="#434343"/></linearGradient><linearGradient id="e140" x1="0" y1="0" x2="0" y2="1"><stop offset="0.000" stop-color="#8c8c8c"/><stop offset="0.039" stop-color="#aaaaaa"/><stop offset="0.074" stop-color="#eaeaea"/><stop offset="0.235" stop-color="#eaeaea"/><stop offset="0.334" stop-color="#a9a9a9"/><stop offset="0.661" stop-color="#818181"/><stop offset="0.931" stop-color="#737373"/><stop offset="0.941" stop-color="#414141"/><stop offset="1.000" stop-color="#414141"/></linearGradient><linearGradient id="e141" x1="0" y1="0" x2="0" y2="1"><stop offset="0.000" stop-color="#8c8c8c"/><stop offset="0.037" stop-color="#aaaaaa"/><stop offset="0.069" stop-color="#eaeaea"/><stop offset="0.269" stop-color="#eaeaea"/><stop offset="0.362" stop-color="#a5a5a5"/><stop offset="0.675" stop-color="#7a7a7a"/><stop offset="0.935" stop-color="#6b6b6b"/><stop offset="0.944" stop-color="#393939"/><stop offset="1.000" stop-color="#393939"/></linearGradient><linearGradient id="e142" x1="0" y1="0" x2="0" y2="1"><stop offset="0.000" stop-color="#8c8c8c"/><stop offset="0.035" stop-color="#aaaaaa"/><stop offset="0.066" stop-color="#ececec"/><stop offset="0.189" stop-color="#ececec"/><stop offset="0.276" stop-color="#aaaaaa"/><stop offset="0.633" stop-color="#828282"/><stop offset="0.939" stop-color="#737373"/><stop offset="0.948" stop-color="#424242"/><stop offset="1.000" stop-color="#424242"/></linearGradient><linearGradient id="e143" x1="0" y1="0" x2="0" y2="1"><stop offset="0.000" stop-color="#8c8c8c"/><stop offset="0.034" stop-color="#aaaaaa"/><stop offset="0.063" stop-color="#f0f0f0"/><stop offset="0.205" stop-color="#f0f0f0"/><stop offset="0.289" stop-color="#a2a2a2"/><stop offset="0.639" stop-color="#767676"/><stop offset="0.941" stop-color="#676767"/><stop offset="0.950" stop-color="#343434"/><stop offset="1.000" stop-color="#343434"/></linearGradient><linearGradient id="e144" x1="0" y1="0" x2="0" y2="1"><stop offset="0.000" stop-color="#8c8c8c"/><stop offset="0.032" stop-color="#aaaaaa"/><stop offset="0.061" stop-color="#f0f0f0"/><stop offset="0.166" stop-color="#f0f0f0"/><stop offset="0.247" stop-color="#a2a2a2"/><stop offset="0.618" stop-color="#767676"/><stop offset="0.943" stop-color="#676767"/><stop offset="0.952" stop-color="#343434"/><stop offset="1.000" stop-color="#343434"/></linearGradient><linearGradient id="e145" x1="0" y1="0" x2="0" y2="1"><stop offset="0.000" stop-color="#8c8c8c"/><stop offset="0.032" stop-color="#aaaaaa"/><stop offset="0.059" stop-color="#eeeeee"/><stop offset="0.278" stop-color="#eeeeee"/><stop offset="0.357" stop-color="#bbbbbb"/><stop offset="0.673" stop-color="#9c9c9c"/><stop offset="0.945" stop-color="#909090"/><stop offset="0.953" stop-color="#626262"/><stop offset="1.000" stop-color="#626262"/></linearGradient><linearGradient id="e146" x1="0" y1="0" x2="0" y2="1"><stop offset="0.000" stop-color="#8c8c8c"/><stop offset="0.031" stop-color="#aaaaaa"/><stop offset="0.059" stop-color="#eaeaea"/><stop offset="0.379" stop-color="#eaeaea"/><stop offset="0.458" stop-color="#c8c8c8"/><stop offset="0.724" stop-color="#afafaf"/><stop offset="0.945" stop-color="#a6a6a6"/><stop offset="0.953" stop-color="#7a7a7a"/><stop offset="1.000" stop-color="#7a7a7a"/></linearGradient><linearGradient id="e147" x1="0" y1="0" x2="0" y2="1"><stop offset="0.000" stop-color="#8c8c8c"/><stop offset="0.031" stop-color="#aaaaaa"/><stop offset="0.058" stop-color="#ececec"/><stop offset="0.392" stop-color="#ececec"/><stop offset="0.470" stop-color="#cbcbcb"/><stop offset="0.730" stop-color="#b4b4b4"/><stop offset="0.946" stop-color="#ababab"/><stop offset="0.953" stop-color="#808080"/><stop offset="1.000" stop-color="#808080"/></linearGradient><linearGradient id="e148" x1="0" y1="0" x2="0" y2="1"><stop offset="0.000" stop-color="#8c8c8c"/><stop offset="0.032" stop-color="#aaaaaa"/><stop offset="0.059" stop-color="#f1f1f1"/><stop offset="0.396" stop-color="#f1f1f1"/><stop offset="0.475" stop-color="#c8c8c8"/><stop offset="0.733" stop-color="#aeaeae"/><stop offset="0.945" stop-color="#a5a5a5"/><stop offset="0.952" stop-color="#797979"/><stop offset="1.000" stop-color="#797979"/></linearGradient><linearGradient id="e149" x1="0" y1="0" x2="0" y2="1"><stop offset="0.000" stop-color="#8c8c8c"/><stop offset="0.032" stop-color="#aaaaaa"/><stop offset="0.060" stop-color="#ededed"/><stop offset="0.409" stop-color="#ededed"/><stop offset="0.489" stop-color="#cacaca"/><stop offset="0.739" stop-color="#b2b2b2"/><stop offset="0.944" stop-color="#aaaaaa"/><stop offset="0.952" stop-color="#7e7e7e"/><stop offset="1.000" stop-color="#7e7e7e"/></linearGradient><linearGradient id="e150" x1="0" y1="0" x2="0" y2="1"><stop offset="0.000" stop-color="#8c8c8c"/><stop offset="0.033" stop-color="#aaaaaa"/><stop offset="0.063" stop-color="#e9e9e9"/><stop offset="0.291" stop-color="#e9e9e9"/><stop offset="0.375" stop-color="#cbcbcb"/><stop offset="0.682" stop-color="#b3b3b3"/><stop offset="0.941" stop-color="#ababab"/><stop offset="0.950" stop-color="#808080"/><stop offset="1.000" stop-color="#808080"/></linearGradient><linearGradient id="e151" x1="0" y1="0" x2="0" y2="1"><stop offset="0.000" stop-color="#8c8c8c"/><stop offset="0.035" stop-color="#aaaaaa"/><stop offset="0.065" stop-color="#f0f0f0"/><stop offset="0.177" stop-color="#f0f0f0"/><stop offset="0.264" stop-color="#959595"/><stop offset="0.627" stop-color="#626262"/><stop offset="0.939" stop-color="#505050"/><stop offset="0.948" stop-color="#1b1b1b"/><stop offset="1.000" stop-color="#1b1b1b"/></linearGradient><linearGradient id="e152" x1="0" y1="0" x2="0" y2="1"><stop offset="0.000" stop-color="#8c8c8c"/><stop offset="0.038" stop-color="#aaaaaa"/><stop offset="0.070" stop-color="#e9e9e9"/><stop offset="0.222" stop-color="#e9e9e9"/><stop offset="0.316" stop-color="#919191"/><stop offset="0.652" stop-color="#5d5d5d"/><stop offset="0.934" stop-color="#4a4a4a"/><stop offset="0.944" stop-color="#191919"/><stop offset="1.000" stop-color="#191919"/></linearGradient><linearGradient id="e153" x1="0" y1="0" x2="0" y2="1"><stop offset="0.000" stop-color="#8c8c8c"/><stop offset="0.040" stop-color="#aaaaaa"/><stop offset="0.075" stop-color="#e9e9e9"/><stop offset="0.302" stop-color="#e9e9e9"/><stop offset="0.402" stop-color="#8f8f8f"/><stop offset="0.695" stop-color="#5a5a5a"/><stop offset="0.930" stop-color="#474747"/><stop offset="0.940" stop-color="#191919"/><stop offset="1.000" stop-color="#191919"/></linearGradient><linearGradient id="e154" x1="0" y1="0" x2="0" y2="1"><stop offset="0.000" stop-color="#8c8c8c"/><stop offset="0.040" stop-color="#aaaaaa"/><stop offset="0.076" stop-color="#eeeeee"/><stop offset="0.316" stop-color="#eeeeee"/><stop offset="0.417" stop-color="#848484"/><stop offset="0.702" stop-color="#494949"/><stop offset="0.929" stop-color="#343434"/><stop offset="0.939" stop-color="#191919"/><stop offset="1.000" stop-color="#191919"/></linearGradient><linearGradient id="e155" x1="0" y1="0" x2="0" y2="1"><stop offset="0.000" stop-color="#8c8c8c"/><stop offset="0.041" stop-color="#aaaaaa"/><stop offset="0.076" stop-color="#ebebeb"/><stop offset="0.314" stop-color="#ebebeb"/><stop offset="0.416" stop-color="#898989"/><stop offset="0.702" stop-color="#505050"/><stop offset="0.929" stop-color="#3c3c3c"/><stop offset="0.939" stop-color="#191919"/><stop offset="1.000" stop-color="#191919"/></linearGradient><linearGradient id="e156" x1="0" y1="0" x2="0" y2="1"><stop offset="0.000" stop-color="#8c8c8c"/><stop offset="0.041" stop-color="#aaaaaa"/><stop offset="0.077" stop-color="#f1f1f1"/><stop offset="0.300" stop-color="#f1f1f1"/><stop offset="0.403" stop-color="#8c8c8c"/><stop offset="0.695" stop-color="#545454"/><stop offset="0.928" stop-color="#414141"/><stop offset="0.939" stop-color="#191919"/><stop offset="1.000" stop-color="#191919"/></linearGradient><linearGradient id="e157" x1="0" y1="0" x2="0" y2="1"><stop offset="0.000" stop-color="#8c8c8c"/><stop offset="0.040" stop-color="#aaaaaa"/><stop offset="0.075" stop-color="#f0f0f0"/><stop offset="0.302" stop-color="#f0f0f0"/><stop offset="0.403" stop-color="#868686"/><stop offset="0.695" stop-color="#4d4d4d"/><stop offset="0.930" stop-color="#383838"/><stop offset="0.940" stop-color="#191919"/><stop offset="1.000" stop-color="#191919"/></linearGradient><linearGradient id="e158" x1="0" y1="0" x2="0" y2="1"><stop offset="0.000" stop-color="#8c8c8c"/><stop offset="0.040" stop-color="#aaaaaa"/><stop offset="0.075" stop-color="#ebebeb"/><stop offset="0.321" stop-color="#ebebeb"/><stop offset="0.421" stop-color="#8b8b8b"/><stop offset="0.704" stop-color="#545454"/><stop offset="0.930" stop-color="#404040"/><stop offset="0.940" stop-color="#191919"/><stop offset="1.000" stop-color="#191919"/></linearGradient><linearGradient id="e159" x1="0" y1="0" x2="0" y2="1"><stop offset="0.000" stop-color="#8c8c8c"/><stop offset="0.039" stop-color="#aaaaaa"/><stop offset="0.073" stop-color="#f0f0f0"/><stop offset="0.282" stop-color="#f0f0f0"/><stop offset="0.380" stop-color="#838383"/><stop offset="0.684" stop-color="#474747"/><stop offset="0.932" stop-color="#323232"/><stop offset="0.941" stop-color="#191919"/><stop offset="1.000" stop-color="#191919"/></linearGradient><linearGradient id="e160" x1="0" y1="0" x2="0" y2="1"><stop offset="0.000" stop-color="#8c8c8c"/><stop offset="0.040" stop-color="#aaaaaa"/><stop offset="0.075" stop-color="#f0f0f0"/><stop offset="0.322" stop-color="#f0f0f0"/><stop offset="0.422" stop-color="#848484"/><stop offset="0.705" stop-color="#494949"/><stop offset="0.930" stop-color="#343434"/><stop offset="0.940" stop-color="#191919"/><stop offset="1.000" stop-color="#191919"/></linearGradient><linearGradient id="e161" x1="0" y1="0" x2="0" y2="1"><stop offset="0.000" stop-color="#8c8c8c"/><stop offset="0.039" stop-color="#aaaaaa"/><stop offset="0.073" stop-color="#ebebeb"/><stop offset="0.348" stop-color="#ebebeb"/><stop offset="0.446" stop-color="#8e8e8e"/><stop offset="0.717" stop-color="#575757"/><stop offset="0.932" stop-color="#444444"/><stop offset="0.942" stop-color="#191919"/><stop offset="1.000" stop-color="#191919"/></linearGradient><linearGradient id="e162" x1="0" y1="0" x2="0" y2="1"><stop offset="0.000" stop-color="#8c8c8c"/><stop offset="0.038" stop-color="#aaaaaa"/><stop offset="0.072" stop-color="#f1f1f1"/><stop offset="0.297" stop-color="#f1f1f1"/><stop offset="0.393" stop-color="#818181"/><stop offset="0.690" stop-color="#454545"/><stop offset="0.933" stop-color="#303030"/><stop offset="0.942" stop-color="#191919"/><stop offset="1.000" stop-color="#191919"/></linearGradient><linearGradient id="e163" x1="0" y1="0" x2="0" y2="1"><stop offset="0.000" stop-color="#8c8c8c"/><stop offset="0.039" stop-color="#aaaaaa"/><stop offset="0.074" stop-color="#ececec"/><stop offset="0.336" stop-color="#ececec"/><stop offset="0.434" stop-color="#8b8b8b"/><stop offset="0.711" stop-color="#535353"/><stop offset="0.931" stop-color="#3f3f3f"/><stop offset="0.941" stop-color="#191919"/><stop offset="1.000" stop-color="#191919"/></linearGradient><linearGradient id="e164" x1="0" y1="0" x2="0" y2="1"><stop offset="0.000" stop-color="#8c8c8c"/><stop offset="0.038" stop-color="#aaaaaa"/><stop offset="0.072" stop-color="#ededed"/><stop offset="0.335" stop-color="#ededed"/><stop offset="0.431" stop-color="#828282"/><stop offset="0.709" stop-color="#474747"/><stop offset="0.933" stop-color="#313131"/><stop offset="0.942" stop-color="#191919"/><stop offset="1.000" stop-color="#191919"/></linearGradient><linearGradient id="e165" x1="0" y1="0" x2="0" y2="1"><stop offset="0.000" stop-color="#8c8c8c"/><stop offset="0.039" stop-color="#aaaaaa"/><stop offset="0.073" stop-color="#e7e7e7"/><stop offset="0.342" stop-color="#e7e7e7"/><stop offset="0.439" stop-color="#848484"/><stop offset="0.713" stop-color="#4a4a4a"/><stop offset="0.932" stop-color="#353535"/><stop offset="0.942" stop-color="#191919"/><stop offset="1.000" stop-color="#191919"/></linearGradient><linearGradient id="e166" x1="0" y1="0" x2="0" y2="1"><stop offset="0.000" stop-color="#8c8c8c"/><stop offset="0.039" stop-color="#aaaaaa"/><stop offset="0.074" stop-color="#ededed"/><stop offset="0.312" stop-color="#ededed"/><stop offset="0.410" stop-color="#7f7f7f"/><stop offset="0.699" stop-color="#414141"/><stop offset="0.931" stop-color="#2b2b2b"/><stop offset="0.941" stop-color="#191919"/><stop offset="1.000" stop-color="#191919"/></linearGradient><linearGradient id="e167" x1="0" y1="0" x2="0" y2="1"><stop offset="0.000" stop-color="#8c8c8c"/><stop offset="0.040" stop-color="#aaaaaa"/><stop offset="0.075" stop-color="#ededed"/><stop offset="0.347" stop-color="#ededed"/><stop offset="0.447" stop-color="#888888"/><stop offset="0.717" stop-color="#4f4f4f"/><stop offset="0.930" stop-color="#3a3a3a"/><stop offset="0.940" stop-color="#191919"/><stop offset="1.000" stop-color="#191919"/></linearGradient><linearGradient id="e168" x1="0" y1="0" x2="0" y2="1"><stop offset="0.000" stop-color="#8c8c8c"/><stop offset="0.041" stop-color="#aaaaaa"/><stop offset="0.076" stop-color="#ececec"/><stop offset="0.344" stop-color="#ececec"/><stop offset="0.446" stop-color="#8a8a8a"/><stop offset="0.716" stop-color="#525252"/><stop offset="0.929" stop-color="#3e3e3e"/><stop offset="0.939" stop-color="#191919"/><stop offset="1.000" stop-color="#191919"/></linearGradient><linearGradient id="e169" x1="0" y1="0" x2="0" y2="1"><stop offset="0.000" stop-color="#8c8c8c"/><stop offset="0.041" stop-color="#aaaaaa"/><stop offset="0.076" stop-color="#ededed"/><stop offset="0.303" stop-color="#ededed"/><stop offset="0.405" stop-color="#888888"/><stop offset="0.696" stop-color="#4e4e4e"/><stop offset="0.929" stop-color="#3a3a3a"/><stop offset="0.939" stop-color="#191919"/><stop offset="1.000" stop-color="#191919"/></linearGradient><linearGradient id="e170" x1="0" y1="0" x2="0" y2="1"><stop offset="0.000" stop-color="#8c8c8c"/><stop offset="0.041" stop-color="#aaaaaa"/><stop offset="0.077" stop-color="#f1f1f1"/><stop offset="0.358" stop-color="#f1f1f1"/><stop offset="0.461" stop-color="#848484"/><stop offset="0.724" stop-color="#494949"/><stop offset="0.928" stop-color="#343434"/><stop offset="0.938" stop-color="#191919"/><stop offset="1.000" stop-color="#191919"/></linearGradient><linearGradient id="e171" x1="0" y1="0" x2="0" y2="1"><stop offset="0.000" stop-color="#8c8c8c"/><stop offset="0.041" stop-color="#aaaaaa"/><stop offset="0.077" stop-color="#e9e9e9"/><stop offset="0.327" stop-color="#e9e9e9"/><stop offset="0.429" stop-color="#848484"/><stop offset="0.708" stop-color="#494949"/><stop offset="0.928" stop-color="#343434"/><stop offset="0.938" stop-color="#191919"/><stop offset="1.000" stop-color="#191919"/></linearGradient><linearGradient id="e172" x1="0" y1="0" x2="0" y2="1"><stop offset="0.000" stop-color="#8c8c8c"/><stop offset="0.042" stop-color="#aaaaaa"/><stop offset="0.078" stop-color="#eaeaea"/><stop offset="0.314" stop-color="#eaeaea"/><stop offset="0.418" stop-color="#828282"/><stop offset="0.702" stop-color="#464646"/><stop offset="0.927" stop-color="#303030"/><stop offset="0.938" stop-color="#191919"/><stop offset="1.000" stop-color="#191919"/></linearGradient><linearGradient id="e173" x1="0" y1="0" x2="0" y2="1"><stop offset="0.000" stop-color="#8c8c8c"/><stop offset="0.043" stop-color="#aaaaaa"/><stop offset="0.080" stop-color="#ebebeb"/><stop offset="0.343" stop-color="#ebebeb"/><stop offset="0.449" stop-color="#838383"/><stop offset="0.718" stop-color="#484848"/><stop offset="0.925" stop-color="#333333"/><stop offset="0.936" stop-color="#191919"/><stop offset="1.000" stop-color="#191919"/></linearGradient><linearGradient id="e174" x1="0" y1="0" x2="0" y2="1"><stop offset="0.000" stop-color="#8c8c8c"/><stop offset="0.043" stop-color="#aaaaaa"/><stop offset="0.080" stop-color="#e9e9e9"/><stop offset="0.327" stop-color="#e9e9e9"/><stop offset="0.435" stop-color="#818181"/><stop offset="0.711" stop-color="#454545"/><stop offset="0.925" stop-color="#2f2f2f"/><stop offset="0.936" stop-color="#191919"/><stop offset="1.000" stop-color="#191919"/></linearGradient><linearGradient id="e175" x1="0" y1="0" x2="0" y2="1"><stop offset="0.000" stop-color="#8c8c8c"/><stop offset="0.044" stop-color="#aaaaaa"/><stop offset="0.082" stop-color="#eeeeee"/><stop offset="0.348" stop-color="#eeeeee"/><stop offset="0.457" stop-color="#898989"/><stop offset="0.722" stop-color="#515151"/><stop offset="0.924" stop-color="#3d3d3d"/><stop offset="0.934" stop-color="#191919"/><stop offset="1.000" stop-color="#191919"/></linearGradient><linearGradient id="e176" x1="0" y1="0" x2="0" y2="1"><stop offset="0.000" stop-color="#8c8c8c"/><stop offset="0.043" stop-color="#aaaaaa"/><stop offset="0.081" stop-color="#ececec"/><stop offset="0.346" stop-color="#ececec"/><stop offset="0.455" stop-color="#868686"/><stop offset="0.721" stop-color="#4c4c4c"/><stop offset="0.924" stop-color="#383838"/><stop offset="0.935" stop-color="#191919"/><stop offset="1.000" stop-color="#191919"/></linearGradient><linearGradient id="e177" x1="0" y1="0" x2="0" y2="1"><stop offset="0.000" stop-color="#8c8c8c"/><stop offset="0.043" stop-color="#aaaaaa"/><stop offset="0.081" stop-color="#efefef"/><stop offset="0.444" stop-color="#efefef"/><stop offset="0.553" stop-color="#a4a4a4"/><stop offset="0.770" stop-color="#7a7a7a"/><stop offset="0.924" stop-color="#6a6a6a"/><stop offset="0.935" stop-color="#383838"/><stop offset="1.000" stop-color="#383838"/></linearGradient><linearGradient id="e178" x1="0" y1="0" x2="0" y2="1"><stop offset="0.000" stop-color="#8c8c8c"/><stop offset="0.045" stop-color="#aaaaaa"/><stop offset="0.084" stop-color="#eaeaea"/><stop offset="0.617" stop-color="#eaeaea"/><stop offset="0.729" stop-color="#b9b9b9"/><stop offset="0.858" stop-color="#999999"/><stop offset="0.922" stop-color="#8d8d8d"/><stop offset="0.933" stop-color="#5e5e5e"/><stop offset="1.000" stop-color="#5e5e5e"/></linearGradient><linearGradient id="e179" x1="0" y1="0" x2="0" y2="1"><stop offset="0.000" stop-color="#8c8c8c"/><stop offset="0.045" stop-color="#aaaaaa"/><stop offset="0.084" stop-color="#e9e9e9"/><stop offset="0.571" stop-color="#e9e9e9"/><stop offset="0.683" stop-color="#bdbdbd"/><stop offset="0.834" stop-color="#9f9f9f"/><stop offset="0.922" stop-color="#949494"/><stop offset="0.933" stop-color="#666666"/><stop offset="1.000" stop-color="#666666"/></linearGradient><linearGradient id="e180" x1="0" y1="0" x2="0" y2="1"><stop offset="0.000" stop-color="#8c8c8c"/><stop offset="0.045" stop-color="#aaaaaa"/><stop offset="0.084" stop-color="#e8e8e8"/><stop offset="0.570" stop-color="#e8e8e8"/><stop offset="0.682" stop-color="#b8b8b8"/><stop offset="0.834" stop-color="#969696"/><stop offset="0.922" stop-color="#8b8b8b"/><stop offset="0.933" stop-color="#5c5c5c"/><stop offset="1.000" stop-color="#5c5c5c"/></linearGradient><linearGradient id="e181" x1="0" y1="0" x2="0" y2="1"><stop offset="0.000" stop-color="#8c8c8c"/><stop offset="0.046" stop-color="#aaaaaa"/><stop offset="0.086" stop-color="#e8e8e8"/><stop offset="0.553" stop-color="#e8e8e8"/><stop offset="0.668" stop-color="#b7b7b7"/><stop offset="0.827" stop-color="#969696"/><stop offset="0.920" stop-color="#8a8a8a"/><stop offset="0.931" stop-color="#5b5b5b"/><stop offset="1.000" stop-color="#5b5b5b"/></linearGradient><linearGradient id="e182" x1="0" y1="0" x2="0" y2="1"><stop offset="0.000" stop-color="#8c8c8c"/><stop offset="0.046" stop-color="#aaaaaa"/><stop offset="0.087" stop-color="#f0f0f0"/><stop offset="0.515" stop-color="#f0f0f0"/><stop offset="0.630" stop-color="#ababab"/><stop offset="0.808" stop-color="#838383"/><stop offset="0.919" stop-color="#757575"/><stop offset="0.931" stop-color="#434343"/><stop offset="1.000" stop-color="#434343"/></linearGradient><linearGradient id="e183" x1="0" y1="0" x2="0" y2="1"><stop offset="0.000" stop-color="#8c8c8c"/><stop offset="0.045" stop-color="#aaaaaa"/><stop offset="0.085" stop-color="#f0f0f0"/><stop offset="0.344" stop-color="#f0f0f0"/><stop offset="0.456" stop-color="#929292"/><stop offset="0.721" stop-color="#5e5e5e"/><stop offset="0.921" stop-color="#4c4c4c"/><stop offset="0.932" stop-color="#191919"/><stop offset="1.000" stop-color="#191919"/></linearGradient><linearGradient id="e184" x1="0" y1="0" x2="0" y2="1"><stop offset="0.000" stop-color="#8c8c8c"/><stop offset="0.046" stop-color="#aaaaaa"/><stop offset="0.086" stop-color="#eeeeee"/><stop offset="0.324" stop-color="#eeeeee"/><stop offset="0.439" stop-color="#939393"/><stop offset="0.712" stop-color="#5f5f5f"/><stop offset="0.920" stop-color="#4d4d4d"/><stop offset="0.931" stop-color="#191919"/><stop offset="1.000" stop-color="#191919"/></linearGradient><linearGradient id="e185" x1="0" y1="0" x2="0" y2="1"><stop offset="0.000" stop-color="#8c8c8c"/><stop offset="0.045" stop-color="#aaaaaa"/><stop offset="0.085" stop-color="#ebebeb"/><stop offset="0.345" stop-color="#ebebeb"/><stop offset="0.458" stop-color="#999999"/><stop offset="0.722" stop-color="#696969"/><stop offset="0.921" stop-color="#585858"/><stop offset="0.932" stop-color="#242424"/><stop offset="1.000" stop-color="#242424"/></linearGradient><linearGradient id="e186" x1="0" y1="0" x2="0" y2="1"><stop offset="0.000" stop-color="#8c8c8c"/><stop offset="0.046" stop-color="#aaaaaa"/><stop offset="0.086" stop-color="#eaeaea"/><stop offset="0.352" stop-color="#eaeaea"/><stop offset="0.467" stop-color="#9e9e9e"/><stop offset="0.726" stop-color="#707070"/><stop offset="0.920" stop-color="#5f5f5f"/><stop offset="0.931" stop-color="#2c2c2c"/><stop offset="1.000" stop-color="#2c2c2c"/></linearGradient><linearGradient id="e187" x1="0" y1="0" x2="0" y2="1"><stop offset="0.000" stop-color="#8c8c8c"/><stop offset="0.045" stop-color="#aaaaaa"/><stop offset="0.084" stop-color="#f1f1f1"/><stop offset="0.331" stop-color="#f1f1f1"/><stop offset="0.443" stop-color="#9c9c9c"/><stop offset="0.714" stop-color="#6e6e6e"/><stop offset="0.922" stop-color="#5d5d5d"/><stop offset="0.933" stop-color="#292929"/><stop offset="1.000" stop-color="#292929"/></linearGradient><linearGradient id="e188" x1="0" y1="0" x2="0" y2="1"><stop offset="0.000" stop-color="#8c8c8c"/><stop offset="0.046" stop-color="#aaaaaa"/><stop offset="0.086" stop-color="#efefef"/><stop offset="0.356" stop-color="#efefef"/><stop offset="0.471" stop-color="#949494"/><stop offset="0.728" stop-color="#616161"/><stop offset="0.920" stop-color="#4f4f4f"/><stop offset="0.932" stop-color="#1a1a1a"/><stop offset="1.000" stop-color="#1a1a1a"/></linearGradient><linearGradient id="e189" x1="0" y1="0" x2="0" y2="1"><stop offset="0.000" stop-color="#8c8c8c"/><stop offset="0.046" stop-color="#aaaaaa"/><stop offset="0.086" stop-color="#ebebeb"/><stop offset="0.402" stop-color="#ebebeb"/><stop offset="0.517" stop-color="#989898"/><stop offset="0.751" stop-color="#676767"/><stop offset="0.919" stop-color="#565656"/><stop offset="0.931" stop-color="#222222"/><stop offset="1.000" stop-color="#222222"/></linearGradient><linearGradient id="e190" x1="0" y1="0" x2="0" y2="1"><stop offset="0.000" stop-color="#8c8c8c"/><stop offset="0.046" stop-color="#aaaaaa"/><stop offset="0.086" stop-color="#f0f0f0"/><stop offset="0.323" stop-color="#f0f0f0"/><stop offset="0.437" stop-color="#9a9a9a"/><stop offset="0.711" stop-color="#696969"/><stop offset="0.920" stop-color="#585858"/><stop offset="0.931" stop-color="#242424"/><stop offset="1.000" stop-color="#242424"/></linearGradient><linearGradient id="e191" x1="0" y1="0" x2="0" y2="1"><stop offset="0.000" stop-color="#8c8c8c"/><stop offset="0.045" stop-color="#aaaaaa"/><stop offset="0.085" stop-color="#efefef"/><stop offset="0.320" stop-color="#efefef"/><stop offset="0.434" stop-color="#949494"/><stop offset="0.710" stop-color="#616161"/><stop offset="0.921" stop-color="#4f4f4f"/><stop offset="0.932" stop-color="#1a1a1a"/><stop offset="1.000" stop-color="#1a1a1a"/></linearGradient><linearGradient id="e192" x1="0" y1="0" x2="0" y2="1"><stop offset="0.000" stop-color="#8c8c8c"/><stop offset="0.046" stop-color="#aaaaaa"/><stop offset="0.086" stop-color="#f0f0f0"/><stop offset="0.343" stop-color="#f0f0f0"/><stop offset="0.457" stop-color="#9d9d9d"/><stop offset="0.721" stop-color="#6f6f6f"/><stop offset="0.920" stop-color="#5e5e5e"/><stop offset="0.931" stop-color="#2b2b2b"/><stop offset="1.000" stop-color="#2b2b2b"/></linearGradient><linearGradient id="e193" x1="0" y1="0" x2="0" y2="1"><stop offset="0.000" stop-color="#8c8c8c"/><stop offset="0.045" stop-color="#aaaaaa"/><stop offset="0.084" stop-color="#eaeaea"/><stop offset="0.335" stop-color="#eaeaea"/><stop offset="0.447" stop-color="#939393"/><stop offset="0.716" stop-color="#606060"/><stop offset="0.922" stop-color="#4e4e4e"/><stop offset="0.933" stop-color="#191919"/><stop offset="1.000" stop-color="#191919"/></linearGradient><linearGradient id="e194" x1="0" y1="0" x2="0" y2="1"><stop offset="0.000" stop-color="#8c8c8c"/><stop offset="0.044" stop-color="#aaaaaa"/><stop offset="0.083" stop-color="#eaeaea"/><stop offset="0.369" stop-color="#eaeaea"/><stop offset="0.479" stop-color="#979797"/><stop offset="0.733" stop-color="#656565"/><stop offset="0.923" stop-color="#535353"/><stop offset="0.934" stop-color="#1e1e1e"/><stop offset="1.000" stop-color="#1e1e1e"/></linearGradient><linearGradient id="e195" x1="0" y1="0" x2="0" y2="1"><stop offset="0.000" stop-color="#8c8c8c"/><stop offset="0.045" stop-color="#aaaaaa"/><stop offset="0.085" stop-color="#e7e7e7"/><stop offset="0.379" stop-color="#e7e7e7"/><stop offset="0.492" stop-color="#9b9b9b"/><stop offset="0.739" stop-color="#6b6b6b"/><stop offset="0.921" stop-color="#5a5a5a"/><stop offset="0.932" stop-color="#262626"/><stop offset="1.000" stop-color="#262626"/></linearGradient><linearGradient id="e196" x1="0" y1="0" x2="0" y2="1"><stop offset="0.000" stop-color="#8c8c8c"/><stop offset="0.044" stop-color="#aaaaaa"/><stop offset="0.083" stop-color="#f0f0f0"/><stop offset="0.311" stop-color="#f0f0f0"/><stop offset="0.421" stop-color="#969696"/><stop offset="0.703" stop-color="#656565"/><stop offset="0.923" stop-color="#535353"/><stop offset="0.934" stop-color="#1e1e1e"/><stop offset="1.000" stop-color="#1e1e1e"/></linearGradient><linearGradient id="e197" x1="0" y1="0" x2="0" y2="1"><stop offset="0.000" stop-color="#8c8c8c"/><stop offset="0.045" stop-color="#aaaaaa"/><stop offset="0.084" stop-color="#f1f1f1"/><stop offset="0.395" stop-color="#f1f1f1"/><stop offset="0.508" stop-color="#989898"/><stop offset="0.747" stop-color="#676767"/><stop offset="0.921" stop-color="#565656"/><stop offset="0.933" stop-color="#222222"/><stop offset="1.000" stop-color="#222222"/></linearGradient><linearGradient id="e198" x1="0" y1="0" x2="0" y2="1"><stop offset="0.000" stop-color="#8c8c8c"/><stop offset="0.045" stop-color="#aaaaaa"/><stop offset="0.084" stop-color="#ebebeb"/><stop offset="0.354" stop-color="#ebebeb"/><stop offset="0.466" stop-color="#9b9b9b"/><stop offset="0.726" stop-color="#6b6b6b"/><stop offset="0.922" stop-color="#5a5a5a"/><stop offset="0.933" stop-color="#262626"/><stop offset="1.000" stop-color="#262626"/></linearGradient><linearGradient id="e199" x1="0" y1="0" x2="0" y2="1"><stop offset="0.000" stop-color="#8c8c8c"/><stop offset="0.044" stop-color="#aaaaaa"/><stop offset="0.082" stop-color="#efefef"/><stop offset="0.367" stop-color="#efefef"/><stop offset="0.476" stop-color="#9c9c9c"/><stop offset="0.731" stop-color="#6d6d6d"/><stop offset="0.923" stop-color="#5c5c5c"/><stop offset="0.934" stop-color="#282828"/><stop offset="1.000" stop-color="#282828"/></linearGradient><linearGradient id="e200" x1="0" y1="0" x2="0" y2="1"><stop offset="0.000" stop-color="#8c8c8c"/><stop offset="0.044" stop-color="#aaaaaa"/><stop offset="0.082" stop-color="#ededed"/><stop offset="0.334" stop-color="#ededed"/><stop offset="0.443" stop-color="#959595"/><stop offset="0.715" stop-color="#626262"/><stop offset="0.923" stop-color="#505050"/><stop offset="0.934" stop-color="#1b1b1b"/><stop offset="1.000" stop-color="#1b1b1b"/></linearGradient><linearGradient id="e201" x1="0" y1="0" x2="0" y2="1"><stop offset="0.000" stop-color="#8c8c8c"/><stop offset="0.044" stop-color="#aaaaaa"/><stop offset="0.083" stop-color="#efefef"/><stop offset="0.318" stop-color="#efefef"/><stop offset="0.429" stop-color="#9a9a9a"/><stop offset="0.708" stop-color="#696969"/><stop offset="0.922" stop-color="#585858"/><stop offset="0.933" stop-color="#242424"/><stop offset="1.000" stop-color="#242424"/></linearGradient></defs>
<g filter="url(#nz2)"><rect x="299" y="7.8" width="1" height="33.5" fill="url(#e0)"/><rect x="300" y="7.8" width="1" height="33.7" fill="url(#e1)"/><rect x="301" y="7.8" width="1" height="33.1" fill="url(#e2)"/><rect x="302" y="7.8" width="1" height="33.6" fill="url(#e3)"/><rect x="303" y="7.8" width="1" height="33.9" fill="url(#e4)"/><rect x="304" y="7.8" width="1" height="34.3" fill="url(#e5)"/><rect x="305" y="7.8" width="1" height="33.2" fill="url(#e6)"/><rect x="306" y="7.8" width="1" height="33.1" fill="url(#e7)"/><rect x="307" y="7.8" width="1" height="33.4" fill="url(#e8)"/><rect x="308" y="7.8" width="1" height="33.5" fill="url(#e9)"/><rect x="309" y="7.8" width="1" height="33.1" fill="url(#e10)"/><rect x="310" y="7.8" width="1" height="32.7" fill="url(#e11)"/><rect x="311" y="7.8" width="1" height="33.2" fill="url(#e12)"/><rect x="312" y="7.8" width="1" height="32.8" fill="url(#e13)"/><rect x="313" y="7.8" width="1" height="32.2" fill="url(#e14)"/><rect x="314" y="7.8" width="1" height="33.1" fill="url(#e15)"/><rect x="315" y="7.8" width="1" height="32.7" fill="url(#e16)"/><rect x="316" y="7.8" width="1" height="32.6" fill="url(#e17)"/><rect x="317" y="7.8" width="1" height="32.8" fill="url(#e18)"/><rect x="318" y="7.8" width="1" height="32.5" fill="url(#e19)"/><rect x="319" y="7.8" width="1" height="32.2" fill="url(#e20)"/><rect x="320" y="7.8" width="1" height="32.2" fill="url(#e21)"/><rect x="321" y="7.8" width="1" height="32.3" fill="url(#e22)"/><rect x="322" y="7.8" width="1" height="33.5" fill="url(#e23)"/><rect x="323" y="7.8" width="1" height="33.3" fill="url(#e24)"/><rect x="324" y="7.8" width="1" height="33.4" fill="url(#e25)"/><rect x="325" y="7.8" width="1" height="34.0" fill="url(#e26)"/><rect x="326" y="7.8" width="1" height="33.9" fill="url(#e27)"/><rect x="327" y="7.8" width="1" height="34.2" fill="url(#e28)"/><rect x="328" y="7.8" width="1" height="34.9" fill="url(#e29)"/><rect x="329" y="7.8" width="1" height="34.4" fill="url(#e30)"/><rect x="330" y="7.8" width="1" height="34.2" fill="url(#e31)"/><rect x="331" y="7.8" width="1" height="34.8" fill="url(#e32)"/><rect x="332" y="7.8" width="1" height="34.7" fill="url(#e33)"/><rect x="333" y="7.8" width="1" height="35.2" fill="url(#e34)"/><rect x="334" y="7.8" width="1" height="34.7" fill="url(#e35)"/><rect x="335" y="7.8" width="1" height="34.6" fill="url(#e36)"/><rect x="336" y="7.8" width="1" height="34.3" fill="url(#e37)"/><rect x="337" y="7.8" width="1" height="33.7" fill="url(#e38)"/><rect x="338" y="7.8" width="1" height="34.4" fill="url(#e39)"/><rect x="339" y="7.8" width="1" height="35.3" fill="url(#e40)"/><rect x="340" y="7.8" width="1" height="34.9" fill="url(#e41)"/><rect x="341" y="7.8" width="1" height="35.3" fill="url(#e42)"/><rect x="342" y="7.8" width="1" height="36.2" fill="url(#e43)"/><rect x="343" y="7.8" width="1" height="35.0" fill="url(#e44)"/><rect x="344" y="7.8" width="1" height="34.3" fill="url(#e45)"/><rect x="345" y="7.8" width="1" height="35.2" fill="url(#e46)"/><rect x="346" y="7.8" width="1" height="35.2" fill="url(#e47)"/><rect x="347" y="7.8" width="1" height="34.3" fill="url(#e48)"/><rect x="348" y="7.8" width="1" height="35.1" fill="url(#e49)"/><rect x="349" y="7.8" width="1" height="34.1" fill="url(#e50)"/><rect x="350" y="7.8" width="1" height="34.8" fill="url(#e51)"/><rect x="351" y="7.8" width="1" height="34.2" fill="url(#e52)"/><rect x="352" y="7.8" width="1" height="34.2" fill="url(#e53)"/><rect x="353" y="7.8" width="1" height="33.8" fill="url(#e54)"/><rect x="354" y="7.8" width="1" height="34.2" fill="url(#e55)"/><rect x="355" y="7.8" width="1" height="34.6" fill="url(#e56)"/><rect x="356" y="7.8" width="1" height="35.2" fill="url(#e57)"/><rect x="357" y="7.8" width="1" height="34.5" fill="url(#e58)"/><rect x="358" y="7.8" width="1" height="34.3" fill="url(#e59)"/><rect x="359" y="7.8" width="1" height="34.4" fill="url(#e60)"/><rect x="360" y="7.8" width="1" height="35.2" fill="url(#e61)"/><rect x="361" y="7.8" width="1" height="35.9" fill="url(#e62)"/><rect x="362" y="7.8" width="1" height="37.3" fill="url(#e63)"/><rect x="363" y="7.8" width="1" height="38.0" fill="url(#e64)"/><rect x="364" y="7.8" width="1" height="40.2" fill="url(#e65)"/><rect x="365" y="7.8" width="1" height="41.3" fill="url(#e66)"/><rect x="366" y="7.8" width="1" height="42.1" fill="url(#e67)"/><rect x="367" y="7.8" width="1" height="43.5" fill="url(#e68)"/><rect x="368" y="7.8" width="1" height="44.4" fill="url(#e69)"/><rect x="369" y="7.8" width="1" height="44.9" fill="url(#e70)"/><rect x="370" y="7.8" width="1" height="45.6" fill="url(#e71)"/><rect x="371" y="7.8" width="1" height="44.9" fill="url(#e72)"/><rect x="372" y="7.8" width="1" height="43.1" fill="url(#e73)"/><rect x="373" y="7.8" width="1" height="41.8" fill="url(#e74)"/><rect x="374" y="7.8" width="1" height="40.9" fill="url(#e75)"/><rect x="375" y="7.8" width="1" height="40.8" fill="url(#e76)"/><rect x="376" y="7.8" width="1" height="39.9" fill="url(#e77)"/><rect x="377" y="7.8" width="1" height="39.3" fill="url(#e78)"/><rect x="378" y="7.8" width="1" height="39.7" fill="url(#e79)"/><rect x="379" y="7.8" width="1" height="40.4" fill="url(#e80)"/><rect x="380" y="7.8" width="1" height="41.1" fill="url(#e81)"/><rect x="381" y="7.8" width="1" height="41.9" fill="url(#e82)"/><rect x="382" y="7.8" width="1" height="41.8" fill="url(#e83)"/><rect x="383" y="7.8" width="1" height="43.3" fill="url(#e84)"/><rect x="384" y="7.8" width="1" height="44.3" fill="url(#e85)"/><rect x="385" y="7.8" width="1" height="45.9" fill="url(#e86)"/><rect x="386" y="7.8" width="1" height="47.5" fill="url(#e87)"/><rect x="387" y="7.8" width="1" height="49.2" fill="url(#e88)"/><rect x="388" y="7.8" width="1" height="51.2" fill="url(#e89)"/><rect x="389" y="7.8" width="1" height="53.1" fill="url(#e90)"/><rect x="390" y="7.8" width="1" height="55.0" fill="url(#e91)"/><rect x="391" y="7.8" width="1" height="56.9" fill="url(#e92)"/><rect x="392" y="7.8" width="1" height="58.8" fill="url(#e93)"/><rect x="393" y="7.8" width="1" height="61.9" fill="url(#e94)"/><rect x="394" y="7.8" width="1" height="78.3" fill="url(#e95)"/><rect x="395" y="7.8" width="1" height="85.3" fill="url(#e96)"/><rect x="396" y="7.8" width="1" height="86.8" fill="url(#e97)"/><rect x="397" y="7.8" width="1" height="88.3" fill="url(#e98)"/><rect x="398" y="7.8" width="1" height="89.3" fill="url(#e99)"/><rect x="399" y="7.8" width="1" height="88.5" fill="url(#e100)"/><rect x="400" y="7.8" width="1" height="88.2" fill="url(#e101)"/><rect x="401" y="7.8" width="1" height="88.1" fill="url(#e102)"/><rect x="402" y="7.8" width="1" height="87.5" fill="url(#e103)"/><rect x="403" y="7.8" width="1" height="88.0" fill="url(#e104)"/><rect x="404" y="7.8" width="1" height="86.7" fill="url(#e105)"/><rect x="405" y="7.8" width="1" height="88.9" fill="url(#e106)"/><rect x="406" y="7.8" width="1" height="89.9" fill="url(#e107)"/><rect x="407" y="7.8" width="1" height="91.5" fill="url(#e108)"/><rect x="408" y="7.8" width="1" height="93.4" fill="url(#e109)"/><rect x="409" y="7.8" width="1" height="93.9" fill="url(#e110)"/><rect x="410" y="7.8" width="1" height="94.5" fill="url(#e111)"/><rect x="411" y="7.8" width="1" height="93.7" fill="url(#e112)"/><rect x="412" y="7.8" width="1" height="94.8" fill="url(#e113)"/><rect x="413" y="7.8" width="1" height="94.7" fill="url(#e114)"/><rect x="414" y="7.8" width="1" height="95.0" fill="url(#e115)"/><rect x="415" y="7.8" width="1" height="94.7" fill="url(#e116)"/><rect x="416" y="7.8" width="1" height="94.7" fill="url(#e117)"/><rect x="417" y="7.8" width="1" height="95.4" fill="url(#e118)"/><rect x="418" y="7.8" width="1" height="95.3" fill="url(#e119)"/><rect x="419" y="7.8" width="1" height="94.8" fill="url(#e120)"/><rect x="420" y="7.8" width="1" height="87.4" fill="url(#e121)"/><rect x="421" y="7.8" width="1" height="78.6" fill="url(#e122)"/><rect x="422" y="7.8" width="1" height="68.8" fill="url(#e123)"/><rect x="423" y="7.8" width="1" height="61.2" fill="url(#e124)"/><rect x="424" y="7.8" width="1" height="55.3" fill="url(#e125)"/><rect x="425" y="7.8" width="1" height="50.5" fill="url(#e126)"/><rect x="426" y="7.8" width="1" height="48.9" fill="url(#e127)"/><rect x="427" y="7.8" width="1" height="46.3" fill="url(#e128)"/><rect x="428" y="7.8" width="1" height="44.9" fill="url(#e129)"/><rect x="429" y="7.8" width="1" height="43.1" fill="url(#e130)"/><rect x="430" y="7.8" width="1" height="40.7" fill="url(#e131)"/><rect x="431" y="7.8" width="1" height="39.0" fill="url(#e132)"/><rect x="432" y="7.8" width="1" height="38.3" fill="url(#e133)"/><rect x="433" y="7.8" width="1" height="36.7" fill="url(#e134)"/><rect x="434" y="7.8" width="1" height="36.1" fill="url(#e135)"/><rect x="435" y="7.8" width="1" height="35.9" fill="url(#e136)"/><rect x="436" y="7.8" width="1" height="36.1" fill="url(#e137)"/><rect x="437" y="7.8" width="1" height="38.2" fill="url(#e138)"/><rect x="438" y="7.8" width="1" height="38.5" fill="url(#e139)"/><rect x="439" y="7.8" width="1" height="40.5" fill="url(#e140)"/><rect x="440" y="7.8" width="1" height="43.2" fill="url(#e141)"/><rect x="441" y="7.8" width="1" height="45.7" fill="url(#e142)"/><rect x="442" y="7.8" width="1" height="47.5" fill="url(#e143)"/><rect x="443" y="7.8" width="1" height="49.5" fill="url(#e144)"/><rect x="444" y="7.8" width="1" height="50.6" fill="url(#e145)"/><rect x="445" y="7.8" width="1" height="51.0" fill="url(#e146)"/><rect x="446" y="7.8" width="1" height="51.5" fill="url(#e147)"/><rect x="447" y="7.8" width="1" height="50.5" fill="url(#e148)"/><rect x="448" y="7.8" width="1" height="49.9" fill="url(#e149)"/><rect x="449" y="7.8" width="1" height="47.8" fill="url(#e150)"/><rect x="450" y="7.8" width="1" height="46.2" fill="url(#e151)"/><rect x="451" y="7.8" width="1" height="42.6" fill="url(#e152)"/><rect x="452" y="7.8" width="1" height="39.8" fill="url(#e153)"/><rect x="453" y="7.8" width="1" height="39.5" fill="url(#e154)"/><rect x="454" y="7.8" width="1" height="39.2" fill="url(#e155)"/><rect x="455" y="7.8" width="1" height="39.0" fill="url(#e156)"/><rect x="456" y="7.8" width="1" height="39.8" fill="url(#e157)"/><rect x="457" y="7.8" width="1" height="39.8" fill="url(#e158)"/><rect x="458" y="7.8" width="1" height="40.9" fill="url(#e159)"/><rect x="459" y="7.8" width="1" height="40.1" fill="url(#e160)"/><rect x="460" y="7.8" width="1" height="41.1" fill="url(#e161)"/><rect x="461" y="7.8" width="1" height="41.6" fill="url(#e162)"/><rect x="462" y="7.8" width="1" height="40.7" fill="url(#e163)"/><rect x="463" y="7.8" width="1" height="41.7" fill="url(#e164)"/><rect x="464" y="7.8" width="1" height="41.1" fill="url(#e165)"/><rect x="465" y="7.8" width="1" height="40.6" fill="url(#e166)"/><rect x="466" y="7.8" width="1" height="40.0" fill="url(#e167)"/><rect x="467" y="7.8" width="1" height="39.5" fill="url(#e168)"/><rect x="468" y="7.8" width="1" height="39.3" fill="url(#e169)"/><rect x="469" y="7.8" width="1" height="38.7" fill="url(#e170)"/><rect x="470" y="7.8" width="1" height="38.9" fill="url(#e171)"/><rect x="471" y="7.8" width="1" height="38.5" fill="url(#e172)"/><rect x="472" y="7.8" width="1" height="37.4" fill="url(#e173)"/><rect x="473" y="7.8" width="1" height="37.3" fill="url(#e174)"/><rect x="474" y="7.8" width="1" height="36.6" fill="url(#e175)"/><rect x="475" y="7.8" width="1" height="36.9" fill="url(#e176)"/><rect x="476" y="7.8" width="1" height="36.9" fill="url(#e177)"/><rect x="477" y="7.8" width="1" height="35.7" fill="url(#e178)"/><rect x="478" y="7.8" width="1" height="35.8" fill="url(#e179)"/><rect x="479" y="7.8" width="1" height="35.8" fill="url(#e180)"/><rect x="480" y="7.8" width="1" height="35.0" fill="url(#e181)"/><rect x="481" y="7.8" width="1" height="34.7" fill="url(#e182)"/><rect x="482" y="7.8" width="1" height="35.5" fill="url(#e183)"/><rect x="483" y="7.8" width="1" height="34.8" fill="url(#e184)"/><rect x="484" y="7.8" width="1" height="35.4" fill="url(#e185)"/><rect x="485" y="7.8" width="1" height="34.8" fill="url(#e186)"/><rect x="486" y="7.8" width="1" height="35.7" fill="url(#e187)"/><rect x="487" y="7.8" width="1" height="35.1" fill="url(#e188)"/><rect x="488" y="7.8" width="1" height="34.8" fill="url(#e189)"/><rect x="489" y="7.8" width="1" height="35.0" fill="url(#e190)"/><rect x="490" y="7.8" width="1" height="35.3" fill="url(#e191)"/><rect x="491" y="7.8" width="1" height="34.9" fill="url(#e192)"/><rect x="492" y="7.8" width="1" height="35.9" fill="url(#e193)"/><rect x="493" y="7.8" width="1" height="36.2" fill="url(#e194)"/><rect x="494" y="7.8" width="1" height="35.5" fill="url(#e195)"/><rect x="495" y="7.8" width="1" height="36.3" fill="url(#e196)"/><rect x="496" y="7.8" width="1" height="35.6" fill="url(#e197)"/><rect x="497" y="7.8" width="1" height="35.8" fill="url(#e198)"/><rect x="498" y="7.8" width="1" height="36.6" fill="url(#e199)"/><rect x="499" y="7.8" width="1" height="36.5" fill="url(#e200)"/><rect x="500" y="7.8" width="1" height="36.0" fill="url(#e201)"/></g>
<rect x="299.5" y="7.5" width="201.0" height="100.0" fill="none" stroke="#707070" stroke-width="1"/>
<line x1="299.50" y1="107.5" x2="299.50" y2="105.5" stroke="#707070" stroke-width="1"/>
<text x="299.50" y="118.80" font-family="Liberation Sans, sans-serif" font-weight="bold" font-size="8.6" text-anchor="middle" fill="#262626" >0</text>
<line x1="318.10" y1="107.5" x2="318.10" y2="105.5" stroke="#707070" stroke-width="1"/>
<text x="318.10" y="118.80" font-family="Liberation Sans, sans-serif" font-weight="bold" font-size="8.6" text-anchor="middle" fill="#262626" >2</text>
<line x1="336.70" y1="107.5" x2="336.70" y2="105.5" stroke="#707070" stroke-width="1"/>
<text x="336.70" y="118.80" font-family="Liberation Sans, sans-serif" font-weight="bold" font-size="8.6" text-anchor="middle" fill="#262626" >4</text>
<line x1="355.30" y1="107.5" x2="355.30" y2="105.5" stroke="#707070" stroke-width="1"/>
<text x="355.30" y="118.80" font-family="Liberation Sans, sans-serif" font-weight="bold" font-size="8.6" text-anchor="middle" fill="#262626" >6</text>
<line x1="373.90" y1="107.5" x2="373.90" y2="105.5" stroke="#707070" stroke-width="1"/>
<text x="373.90" y="118.80" font-family="Liberation Sans, sans-serif" font-weight="bold" font-size="8.6" text-anchor="middle" fill="#262626" >8</text>
<line x1="392.50" y1="107.5" x2="392.50" y2="105.5" stroke="#707070" stroke-width="1"/>
<text x="392.50" y="118.80" font-family="Liberation Sans, sans-serif" font-weight="bold" font-size="8.6" text-anchor="middle" fill="#262626" >10</text>
<line x1="411.10" y1="107.5" x2="411.10" y2="105.5" stroke="#707070" stroke-width="1"/>
<text x="411.10" y="118.80" font-family="Liberation Sans, sans-serif" font-weight="bold" font-size="8.6" text-anchor="middle" fill="#262626" >12</text>
<line x1="429.70" y1="107.5" x2="429.70" y2="105.5" stroke="#707070" stroke-width="1"/>
<text x="429.70" y="118.80" font-family="Liberation Sans, sans-serif" font-weight="bold" font-size="8.6" text-anchor="middle" fill="#262626" >14</text>
<line x1="448.30" y1="107.5" x2="448.30" y2="105.5" stroke="#707070" stroke-width="1"/>
<text x="448.30" y="118.80" font-family="Liberation Sans, sans-serif" font-weight="bold" font-size="8.6" text-anchor="middle" fill="#262626" >16</text>
<line x1="466.90" y1="107.5" x2="466.90" y2="105.5" stroke="#707070" stroke-width="1"/>
<text x="466.90" y="118.80" font-family="Liberation Sans, sans-serif" font-weight="bold" font-size="8.6" text-anchor="middle" fill="#262626" >18</text>
<line x1="485.50" y1="107.5" x2="485.50" y2="105.5" stroke="#707070" stroke-width="1"/>
<text x="485.50" y="118.80" font-family="Liberation Sans, sans-serif" font-weight="bold" font-size="8.6" text-anchor="middle" fill="#262626" >20</text>
<line x1="299.5" y1="7.50" x2="301.5" y2="7.50" stroke="#555" stroke-width="0.8"/>
<line x1="500.5" y1="7.50" x2="498.5" y2="7.50" stroke="#707070" stroke-width="1"/>
<text x="296.20" y="11.00" font-family="Liberation Sans, sans-serif" font-weight="bold" font-size="8.6" text-anchor="end" fill="#262626" >0</text>
<line x1="299.5" y1="32.50" x2="301.5" y2="32.50" stroke="#555" stroke-width="0.8"/>
<line x1="500.5" y1="32.50" x2="498.5" y2="32.50" stroke="#707070" stroke-width="1"/>
<text x="296.20" y="36.00" font-family="Liberation Sans, sans-serif" font-weight="bold" font-size="8.6" text-anchor="end" fill="#262626" >50</text>
<line x1="299.5" y1="57.50" x2="301.5" y2="57.50" stroke="#555" stroke-width="0.8"/>
<line x1="500.5" y1="57.50" x2="498.5" y2="57.50" stroke="#707070" stroke-width="1"/>
<text x="296.20" y="61.00" font-family="Liberation Sans, sans-serif" font-weight="bold" font-size="8.6" text-anchor="end" fill="#262626" >100</text>
<line x1="299.5" y1="82.50" x2="301.5" y2="82.50" stroke="#555" stroke-width="0.8"/>
<line x1="500.5" y1="82.50" x2="498.5" y2="82.50" stroke="#707070" stroke-width="1"/>
<text x="296.20" y="86.00" font-family="Liberation Sans, sans-serif" font-weight="bold" font-size="8.6" text-anchor="end" fill="#262626" >150</text>
<line x1="299.5" y1="107.50" x2="301.5" y2="107.50" stroke="#555" stroke-width="0.8"/>
<line x1="500.5" y1="107.50" x2="498.5" y2="107.50" stroke="#707070" stroke-width="1"/>
<text x="296.20" y="111.00" font-family="Liberation Sans, sans-serif" font-weight="bold" font-size="8.6" text-anchor="end" fill="#262626" >200</text>
<text x="400.00" y="129.30" font-family="Liberation Sans, sans-serif" font-weight="bold" font-size="8.9" text-anchor="middle" fill="#262626" >Range (km)</text>
<text x="0.00" y="0.00" font-family="Liberation Sans, sans-serif" font-weight="bold" font-size="8.9" text-anchor="middle" fill="#262626" letter-spacing="0.3" transform="translate(277.3 57.2) rotate(-90)">Depth (m)</text>
<text x="0.00" y="0.00" font-family="Liberation Sans, sans-serif" font-weight="bold" font-size="17.8" text-anchor="middle" fill="#000" transform="translate(310.4 99.2) scale(0.84 1)">B</text>
<rect x="505.3" y="7.4" width="10" height="99.6" fill="url(#cb)" stroke="#8a8a8a" stroke-width="0.9"/>
<text x="518.60" y="10.20" font-family="Liberation Serif, serif" font-weight="bold" font-size="8.2" text-anchor="start" fill="#262626" >1</text>
<text x="518.40" y="25.80" font-family="Liberation Serif, serif" font-weight="bold" font-size="8.2" text-anchor="start" fill="#262626" >0.1</text>
<text x="518.40" y="41.30" font-family="Liberation Serif, serif" font-weight="bold" font-size="8.2" text-anchor="start" fill="#262626" >0.01</text>
<text x="520.00" y="110.00" font-family="Liberation Sans, sans-serif" font-weight="bold" font-size="8.6" text-anchor="start" fill="#262626" >0</text>
<text font-family="Liberation Sans, sans-serif" font-weight="bold" font-size="7.6" fill="#2a2a2a" text-anchor="middle" transform="translate(545.3 54.5) rotate(-90)">Volume Density (fish&#8201;/&#8201;m<tspan font-size="5.5" dy="-3">3</tspan><tspan dy="3">)</tspan></text>
<line x1="346.00" y1="147.5" x2="346.00" y2="246.5" stroke="#e6e6e6" stroke-width="0.9"/>
<line x1="392.50" y1="147.5" x2="392.50" y2="246.5" stroke="#e6e6e6" stroke-width="0.9"/>
<line x1="439.00" y1="147.5" x2="439.00" y2="246.5" stroke="#e6e6e6" stroke-width="0.9"/>
<line x1="485.50" y1="147.5" x2="485.50" y2="246.5" stroke="#e6e6e6" stroke-width="0.9"/>
<line x1="299.5" y1="221.75" x2="500.5" y2="221.75" stroke="#e6e6e6" stroke-width="0.9"/>
<line x1="299.5" y1="197.00" x2="500.5" y2="197.00" stroke="#e6e6e6" stroke-width="0.9"/>
<line x1="299.5" y1="172.25" x2="500.5" y2="172.25" stroke="#e6e6e6" stroke-width="0.9"/>
<polyline points="299.5,221.3 300.4,222.7 301.7,228.1 302.4,230.5 303.1,233.6 304.4,240.4 305.1,241.8 305.8,242.6 307.0,242.2 307.8,241.7 308.5,241.8 309.2,241.9 310.0,243.0 311.3,243.1 312.6,242.4 314.0,242.6 315.3,243.3 316.7,243.1 317.4,241.2 318.1,240.4 319.4,239.0 320.1,238.4 320.8,237.7 321.5,232.0 322.2,225.4 323.0,222.7 324.1,228.1 324.9,226.8 326.2,224.0 327.1,215.9 327.9,207.7 329.0,200.9 329.5,195.4 330.3,199.5 331.2,213.1 331.7,220.0 332.2,210.4 333.1,199.5 333.9,194.1 335.0,187.3 335.8,181.8 336.6,185.9 337.1,196.8 337.7,205.0 338.5,215.9 339.3,211.8 339.9,218.6 340.4,232.2 341.2,224.0 341.9,223.1 342.6,222.7 344.0,228.1 345.3,226.8 346.7,232.2 348.0,229.5 349.4,228.1 350.1,231.4 350.8,233.6 352.1,230.9 353.5,229.5 354.9,228.1 356.2,232.2 356.9,235.4 357.6,237.7 358.9,241.8 359.6,242.8 360.3,242.6 361.7,243.1 362.5,243.2 363.3,243.8 364.5,245.2 365.3,244.5 366.2,244.4 367.0,244.7 367.8,244.9 368.6,245.3 369.4,245.2 370.0,244.7 370.8,244.4 371.7,244.0 372.5,244.1 373.4,244.2 374.2,244.6 375.1,244.7 375.9,245.2 376.8,245.6 377.6,245.6 378.5,245.8 379.3,245.5 380.2,245.1 381.0,244.8 381.9,245.8 382.7,245.6 383.6,245.3 384.4,245.5 385.3,245.4 386.1,245.3 387.0,245.8 387.8,245.7 388.7,245.2 389.5,245.2 390.4,245.4 391.2,245.0 392.1,244.8 392.9,245.1 393.9,245.4 394.8,244.7 395.8,245.1 396.7,245.4 397.5,245.2 398.2,245.4 399.0,245.8 399.7,245.6 400.5,245.6 401.4,245.2 402.2,245.8 403.1,245.4 403.9,245.5 404.8,245.7 405.6,245.0 406.5,244.7 407.3,245.4 408.2,245.6 409.0,245.8 409.9,245.8 410.7,245.4 411.6,245.8 412.4,244.6 413.3,245.1 414.5,244.7 415.8,245.4 416.5,245.2 417.3,245.0 418.0,245.2 418.7,245.8 419.4,245.7 420.2,245.8 420.9,245.7 421.7,245.7 422.4,245.8 423.2,245.8 424.0,245.8 424.7,245.8 425.4,245.8 426.1,245.8 426.9,245.8 427.6,245.8 428.3,244.4 428.9,240.3 429.3,237.3 429.9,235.2 430.3,236.2 431.0,239.8 431.4,241.8 431.7,240.3 432.2,235.2 432.7,232.2 433.2,230.6 433.7,232.2 434.2,234.2 434.7,235.7 435.2,238.3 435.7,240.3 436.2,241.8 436.8,240.3 437.3,237.3 437.8,234.2 438.3,232.7 438.8,233.2 439.3,235.2 439.8,234.2 440.3,235.7 440.8,240.3 441.3,242.9 441.8,243.9 442.9,244.6 443.9,244.9 444.9,244.4 445.9,245.2 446.9,245.6 447.9,245.8 449.0,245.4 449.5,242.3 450.0,232.2 450.3,222.0 450.6,210.0 451.0,200.0 451.3,185.0 451.4,175.0 451.6,169.0 452.2,166.0 452.6,173.0 453.0,167.5 453.3,176.0 453.9,165.2 454.3,171.0 454.7,164.5 455.0,169.0 454.6,175.0 454.3,179.6 454.7,187.8 455.2,194.3 455.5,200.0 455.8,207.0 456.2,220.0 456.6,228.0 457.0,235.0 458.0,240.0 459.0,242.0 460.0,241.4 461.0,242.0 462.0,240.0 463.0,241.0 464.0,237.0 465.0,240.0 466.0,242.0 467.0,242.6 468.0,243.1 469.4,243.1 470.1,241.7 470.8,237.6 471.5,234.1 472.1,230.0 472.8,229.3 473.5,229.3 474.2,225.8 474.6,222.4 474.9,218.9 475.6,214.8 476.2,210.0 476.5,206.8 476.9,201.4 477.0,195.9 477.2,190.5 477.4,189.4 477.8,193.7 478.0,201.4 478.2,210.0 478.4,217.0 478.6,225.8 478.8,234.1 479.3,239.7 479.8,241.7 480.2,239.7 480.7,236.2 481.1,234.8 481.8,236.9 482.5,235.5 483.2,237.6 483.9,234.1 484.6,231.4 485.3,232.7 486.0,234.8 486.7,232.1 487.4,232.7 488.1,234.8 488.7,235.5 489.4,237.6 490.1,238.3 490.8,236.9 491.5,239.0 492.2,237.6 492.9,240.4 493.6,241.7 495.0,241.7 495.7,240.4 496.4,239.0 497.0,236.9 497.7,238.3 498.2,241.0 499.1,241.7 500.1,242.4 500.8,242.7" fill="none" stroke="#000" stroke-width="1.2" stroke-linejoin="round"/>
<rect x="299.5" y="147.5" width="201.0" height="99.0" fill="none" stroke="#707070" stroke-width="1"/>
<line x1="299.50" y1="246.5" x2="299.50" y2="244.5" stroke="#707070" stroke-width="1"/>
<text x="299.50" y="258.60" font-family="Liberation Sans, sans-serif" font-weight="bold" font-size="8.6" text-anchor="middle" fill="#262626" >0</text>
<line x1="346.00" y1="246.5" x2="346.00" y2="244.5" stroke="#707070" stroke-width="1"/>
<text x="346.00" y="258.60" font-family="Liberation Sans, sans-serif" font-weight="bold" font-size="8.6" text-anchor="middle" fill="#262626" >5</text>
<line x1="392.50" y1="246.5" x2="392.50" y2="244.5" stroke="#707070" stroke-width="1"/>
<text x="392.50" y="258.60" font-family="Liberation Sans, sans-serif" font-weight="bold" font-size="8.6" text-anchor="middle" fill="#262626" >10</text>
<line x1="439.00" y1="246.5" x2="439.00" y2="244.5" stroke="#707070" stroke-width="1"/>
<text x="439.00" y="258.60" font-family="Liberation Sans, sans-serif" font-weight="bold" font-size="8.6" text-anchor="middle" fill="#262626" >15</text>
<line x1="485.50" y1="246.5" x2="485.50" y2="244.5" stroke="#707070" stroke-width="1"/>
<text x="485.50" y="258.60" font-family="Liberation Sans, sans-serif" font-weight="bold" font-size="8.6" text-anchor="middle" fill="#262626" >20</text>
<line x1="299.5" y1="246.50" x2="301.5" y2="246.50" stroke="#555" stroke-width="0.8"/>
<line x1="500.5" y1="246.50" x2="498.5" y2="246.50" stroke="#707070" stroke-width="1"/>
<text x="296.20" y="250.00" font-family="Liberation Sans, sans-serif" font-weight="bold" font-size="8.6" text-anchor="end" fill="#262626" >0</text>
<line x1="299.5" y1="221.75" x2="301.5" y2="221.75" stroke="#555" stroke-width="0.8"/>
<line x1="500.5" y1="221.75" x2="498.5" y2="221.75" stroke="#707070" stroke-width="1"/>
<text x="296.20" y="225.25" font-family="Liberation Sans, sans-serif" font-weight="bold" font-size="8.6" text-anchor="end" fill="#262626" >2</text>
<line x1="299.5" y1="197.00" x2="301.5" y2="197.00" stroke="#555" stroke-width="0.8"/>
<line x1="500.5" y1="197.00" x2="498.5" y2="197.00" stroke="#707070" stroke-width="1"/>
<text x="296.20" y="200.50" font-family="Liberation Sans, sans-serif" font-weight="bold" font-size="8.6" text-anchor="end" fill="#262626" >4</text>
<line x1="299.5" y1="172.25" x2="301.5" y2="172.25" stroke="#555" stroke-width="0.8"/>
<line x1="500.5" y1="172.25" x2="498.5" y2="172.25" stroke="#707070" stroke-width="1"/>
<text x="296.20" y="175.75" font-family="Liberation Sans, sans-serif" font-weight="bold" font-size="8.6" text-anchor="end" fill="#262626" >6</text>
<line x1="299.5" y1="147.50" x2="301.5" y2="147.50" stroke="#555" stroke-width="0.8"/>
<line x1="500.5" y1="147.50" x2="498.5" y2="147.50" stroke="#707070" stroke-width="1"/>
<text x="296.20" y="151.00" font-family="Liberation Sans, sans-serif" font-weight="bold" font-size="8.6" text-anchor="end" fill="#262626" >8</text>
<text x="400.00" y="268.60" font-family="Liberation Sans, sans-serif" font-weight="bold" font-size="8.9" text-anchor="middle" fill="#262626" >Range (km)</text>
<text font-family="Liberation Sans, sans-serif" font-weight="bold" font-size="8.6" letter-spacing="0.3" fill="#262626" text-anchor="middle" transform="translate(288.2 196.8) rotate(-90)">Areal Density (fish&#8201;/&#8201;m<tspan font-size="6" dy="-3">2</tspan><tspan dy="3">)</tspan></text>
<text x="0.00" y="0.00" font-family="Liberation Sans, sans-serif" font-weight="bold" font-size="18.5" text-anchor="middle" fill="#000" transform="translate(311.2 167.1) scale(1.05 1)">C</text>
</svg>
</body></html>
